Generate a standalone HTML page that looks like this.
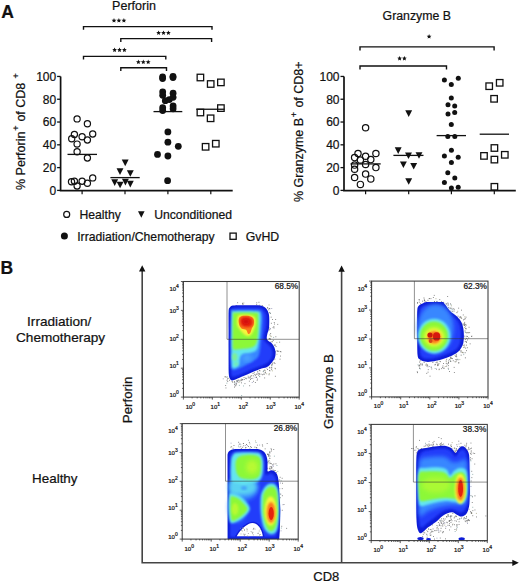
<!DOCTYPE html>
<html><head><meta charset="utf-8"><style>
html,body{margin:0;padding:0;background:#fff;}
svg{display:block;font-family:"Liberation Sans", sans-serif;}
text{fill:#111;stroke:#111;stroke-width:0.22px;}
</style></head><body>
<svg width="520" height="583" viewBox="0 0 520 583">
<defs>
<filter id="b1" x="-20%" y="-20%" width="140%" height="140%"><feGaussianBlur stdDeviation="1.2"/></filter>
<filter id="b2" x="-20%" y="-20%" width="140%" height="140%"><feGaussianBlur stdDeviation="2"/></filter>
<filter id="b0" x="-20%" y="-20%" width="140%" height="140%"><feGaussianBlur stdDeviation="0.5"/></filter>
</defs>
<text x="1.3" y="18" font-size="17.5" font-weight="bold">A</text>
<text x="134" y="10" font-size="12.5" text-anchor="middle">Perforin</text>
<path d="M83.5,29.8 V26.6 H212 V29.8" fill="none" stroke="#111" stroke-width="1.4"/>
<polygon points="114.00,18.10 114.68,19.67 116.38,19.83 115.09,20.96 115.47,22.62 114.00,21.75 112.53,22.62 112.91,20.96 111.62,19.83 113.32,19.67" fill="#111"/>
<polygon points="118.90,18.10 119.58,19.67 121.28,19.83 119.99,20.96 120.37,22.62 118.90,21.75 117.43,22.62 117.81,20.96 116.52,19.83 118.22,19.67" fill="#111"/>
<polygon points="123.90,18.10 124.58,19.67 126.28,19.83 124.99,20.96 125.37,22.62 123.90,21.75 122.43,22.62 122.81,20.96 121.52,19.83 123.22,19.67" fill="#111"/>
<path d="M120.8,42 V38.6 H211.6 V42" fill="none" stroke="#111" stroke-width="1.4"/>
<polygon points="158.60,30.40 159.28,31.97 160.98,32.13 159.69,33.26 160.07,34.92 158.60,34.05 157.13,34.92 157.51,33.26 156.22,32.13 157.92,31.97" fill="#111"/>
<polygon points="163.50,30.40 164.18,31.97 165.88,32.13 164.59,33.26 164.97,34.92 163.50,34.05 162.03,34.92 162.41,33.26 161.12,32.13 162.82,31.97" fill="#111"/>
<polygon points="168.40,30.40 169.08,31.97 170.78,32.13 169.49,33.26 169.87,34.92 168.40,34.05 166.93,34.92 167.31,33.26 166.02,32.13 167.72,31.97" fill="#111"/>
<path d="M83.5,59.5 V56.4 H165.8 V59.5" fill="none" stroke="#111" stroke-width="1.4"/>
<polygon points="114.60,47.50 115.28,49.07 116.98,49.23 115.69,50.36 116.07,52.02 114.60,51.15 113.13,52.02 113.51,50.36 112.22,49.23 113.92,49.07" fill="#111"/>
<polygon points="119.50,47.50 120.18,49.07 121.88,49.23 120.59,50.36 120.97,52.02 119.50,51.15 118.03,52.02 118.41,50.36 117.12,49.23 118.82,49.07" fill="#111"/>
<polygon points="124.40,47.50 125.08,49.07 126.78,49.23 125.49,50.36 125.87,52.02 124.40,51.15 122.93,52.02 123.31,50.36 122.02,49.23 123.72,49.07" fill="#111"/>
<path d="M120.8,71 V67.7 H166.5 V71" fill="none" stroke="#111" stroke-width="1.4"/>
<polygon points="138.40,59.60 139.08,61.17 140.78,61.33 139.49,62.46 139.87,64.12 138.40,63.25 136.93,64.12 137.31,62.46 136.02,61.33 137.72,61.17" fill="#111"/>
<polygon points="143.30,59.60 143.98,61.17 145.68,61.33 144.39,62.46 144.77,64.12 143.30,63.25 141.83,64.12 142.21,62.46 140.92,61.33 142.62,61.17" fill="#111"/>
<polygon points="148.20,59.60 148.88,61.17 150.58,61.33 149.29,62.46 149.67,64.12 148.20,63.25 146.73,64.12 147.11,62.46 145.82,61.33 147.52,61.17" fill="#111"/>
<path d="M60.6,76.45000000000002 V190.6 H232.7" fill="none" stroke="#111" stroke-width="1.7"/>
<path d="M57.1,190.4 H60.6" stroke="#111" stroke-width="1.3"/>
<text x="56.2" y="194.7" font-size="12" text-anchor="end">0</text>
<path d="M57.1,167.61 H60.6" stroke="#111" stroke-width="1.3"/>
<text x="56.2" y="171.9" font-size="12" text-anchor="end">20</text>
<path d="M57.1,144.82 H60.6" stroke="#111" stroke-width="1.3"/>
<text x="56.2" y="149.1" font-size="12" text-anchor="end">40</text>
<path d="M57.1,122.03 H60.6" stroke="#111" stroke-width="1.3"/>
<text x="56.2" y="126.3" font-size="12" text-anchor="end">60</text>
<path d="M57.1,99.24000000000001 H60.6" stroke="#111" stroke-width="1.3"/>
<text x="56.2" y="103.5" font-size="12" text-anchor="end">80</text>
<path d="M57.1,76.45000000000002 H60.6" stroke="#111" stroke-width="1.3"/>
<text x="56.2" y="80.8" font-size="12" text-anchor="end">100</text>
<path d="M82.1,190.4 V194.2" stroke="#111" stroke-width="1.2"/>
<path d="M125,190.4 V194.2" stroke="#111" stroke-width="1.2"/>
<path d="M167.9,190.4 V194.2" stroke="#111" stroke-width="1.2"/>
<path d="M210.8,190.4 V194.2" stroke="#111" stroke-width="1.2"/>
<g transform="rotate(-90)" font-size="12.5"><text x="-190" y="25.2">% Perforin</text><text x="-128.2" y="19.3" font-size="9" text-anchor="middle" stroke="#111" stroke-width="0.35">+</text><text x="-121.6" y="25.2">of CD8</text><text x="-75.8" y="19.3" font-size="9" text-anchor="middle" stroke="#111" stroke-width="0.35">+</text></g>
<circle cx="77.1" cy="118.9" r="3.1" fill="none" stroke="#111" stroke-width="1.2"/>
<circle cx="87.4" cy="123.75" r="3.1" fill="none" stroke="#111" stroke-width="1.2"/>
<circle cx="74.4" cy="134.5" r="3.1" fill="none" stroke="#111" stroke-width="1.2"/>
<circle cx="82.1" cy="136.7" r="3.1" fill="none" stroke="#111" stroke-width="1.2"/>
<circle cx="92.7" cy="134" r="3.1" fill="none" stroke="#111" stroke-width="1.2"/>
<circle cx="71.7" cy="138.8" r="3.1" fill="none" stroke="#111" stroke-width="1.2"/>
<circle cx="87.4" cy="140" r="3.1" fill="none" stroke="#111" stroke-width="1.2"/>
<circle cx="77.1" cy="144.1" r="3.1" fill="none" stroke="#111" stroke-width="1.2"/>
<circle cx="77.1" cy="151.8" r="3.1" fill="none" stroke="#111" stroke-width="1.2"/>
<circle cx="87.4" cy="158" r="3.1" fill="none" stroke="#111" stroke-width="1.2"/>
<circle cx="71.5" cy="181.7" r="3.1" fill="none" stroke="#111" stroke-width="1.2"/>
<circle cx="74.4" cy="181.25" r="3.1" fill="none" stroke="#111" stroke-width="1.2"/>
<circle cx="77.1" cy="186" r="3.1" fill="none" stroke="#111" stroke-width="1.2"/>
<circle cx="82.1" cy="181.25" r="3.1" fill="none" stroke="#111" stroke-width="1.2"/>
<circle cx="87.4" cy="183.2" r="3.1" fill="none" stroke="#111" stroke-width="1.2"/>
<circle cx="92.7" cy="177.9" r="3.1" fill="none" stroke="#111" stroke-width="1.2"/>
<path d="M67.5,154.4 H97" stroke="#111" stroke-width="1.3"/>
<path d="M121.75,159.6 H128.65 L125.2,166.20 Z" fill="#111"/>
<path d="M116.55,168.3 H123.45 L120,174.90 Z" fill="#111"/>
<path d="M126.85,170.2 H133.75 L130.3,176.80 Z" fill="#111"/>
<path d="M111.25,179.3 H118.15 L114.7,185.90 Z" fill="#111"/>
<path d="M116.65,181.7 H123.55 L120.1,188.30 Z" fill="#111"/>
<path d="M121.95,178.8 H128.85 L125.4,185.40 Z" fill="#111"/>
<path d="M126.85,180.8 H133.75 L130.3,187.40 Z" fill="#111"/>
<path d="M110.4,177.6 H139.7" stroke="#111" stroke-width="1.3"/>
<circle cx="162.6" cy="76.8" r="3.4" fill="#111"/>
<circle cx="162.6" cy="78.6" r="3.4" fill="#111"/>
<circle cx="173.0" cy="76.3" r="3.4" fill="#111"/>
<circle cx="173.0" cy="77.6" r="3.4" fill="#111"/>
<circle cx="162.7" cy="91.8" r="3.4" fill="#111"/>
<circle cx="162.7" cy="95.25" r="3.4" fill="#111"/>
<circle cx="173.1" cy="93.2" r="3.4" fill="#111"/>
<circle cx="173.1" cy="97.3" r="3.4" fill="#111"/>
<circle cx="165.3" cy="100.7" r="3.4" fill="#111"/>
<circle cx="169.3" cy="99.6" r="3.4" fill="#111"/>
<circle cx="162.7" cy="107.7" r="3.4" fill="#111"/>
<circle cx="162.7" cy="110.5" r="3.4" fill="#111"/>
<circle cx="173.1" cy="105.9" r="3.4" fill="#111"/>
<circle cx="173.1" cy="108.8" r="3.4" fill="#111"/>
<circle cx="167.9" cy="131.9" r="3.4" fill="#111"/>
<circle cx="167.9" cy="142.2" r="3.4" fill="#111"/>
<circle cx="178.3" cy="146.3" r="3.4" fill="#111"/>
<circle cx="157.5" cy="154.4" r="3.4" fill="#111"/>
<circle cx="167.9" cy="156" r="3.4" fill="#111"/>
<circle cx="167.6" cy="180.7" r="3.4" fill="#111"/>
<path d="M153.5,111.6 H182.3" stroke="#111" stroke-width="1.3"/>
<rect x="197.15" y="74.25" width="6.5" height="6.5" fill="none" stroke="#111" stroke-width="1.3"/>
<rect x="207.45" y="80.75" width="6.5" height="6.5" fill="none" stroke="#111" stroke-width="1.3"/>
<rect x="217.65" y="79.15" width="6.5" height="6.5" fill="none" stroke="#111" stroke-width="1.3"/>
<rect x="217.65" y="104.85" width="6.5" height="6.5" fill="none" stroke="#111" stroke-width="1.3"/>
<rect x="197.15" y="109.25" width="6.5" height="6.5" fill="none" stroke="#111" stroke-width="1.3"/>
<rect x="207.35" y="115.05" width="6.5" height="6.5" fill="none" stroke="#111" stroke-width="1.3"/>
<rect x="212.55" y="140.45" width="6.5" height="6.5" fill="none" stroke="#111" stroke-width="1.3"/>
<rect x="202.35" y="143.55" width="6.5" height="6.5" fill="none" stroke="#111" stroke-width="1.3"/>
<path d="M196.25,109.25 H224.6" stroke="#111" stroke-width="1.3"/>
<circle cx="66.7" cy="214.4" r="3.0" fill="none" stroke="#111" stroke-width="1.2"/>
<text x="79.5" y="218.8" font-size="12.2">Healthy</text>
<path d="M138.00,211.2 H144.60 L141.3,217.70 Z" fill="#111"/>
<text x="154.2" y="218.9" font-size="12.2">Unconditioned</text>
<circle cx="64.4" cy="236" r="3.5" fill="#111"/>
<text x="77.2" y="240.8" font-size="12.2">Irradiation/Chemotherapy</text>
<rect x="230.00" y="233.10" width="6.2" height="6.2" fill="none" stroke="#111" stroke-width="1.3"/>
<text x="245.7" y="240.8" font-size="12.3">GvHD</text>
<text x="382.6" y="20.2" font-size="12.3">Granzyme B</text>
<path d="M360,50.5 V46.9 H494.1 V50.5" fill="none" stroke="#111" stroke-width="1.4"/>
<polygon points="429.10,34.10 429.78,35.67 431.48,35.83 430.19,36.96 430.57,38.62 429.10,37.75 427.63,38.62 428.01,36.96 426.72,35.83 428.42,35.67" fill="#111"/>
<path d="M360,69.5 V66.0 H446.5 V69.5" fill="none" stroke="#111" stroke-width="1.4"/>
<polygon points="399.60,56.00 400.28,57.57 401.98,57.73 400.69,58.86 401.07,60.52 399.60,59.65 398.13,60.52 398.51,58.86 397.22,57.73 398.92,57.57" fill="#111"/>
<polygon points="404.40,56.00 405.08,57.57 406.78,57.73 405.49,58.86 405.87,60.52 404.40,59.65 402.93,60.52 403.31,58.86 402.02,57.73 403.72,57.57" fill="#111"/>
<path d="M344,76.45000000000002 V190.6 H515.8" fill="none" stroke="#111" stroke-width="1.7"/>
<path d="M340.5,190.4 H344" stroke="#111" stroke-width="1.3"/>
<text x="339.5" y="194.7" font-size="12" text-anchor="end">0</text>
<path d="M340.5,167.61 H344" stroke="#111" stroke-width="1.3"/>
<text x="339.5" y="171.9" font-size="12" text-anchor="end">20</text>
<path d="M340.5,144.82 H344" stroke="#111" stroke-width="1.3"/>
<text x="339.5" y="149.1" font-size="12" text-anchor="end">40</text>
<path d="M340.5,122.03 H344" stroke="#111" stroke-width="1.3"/>
<text x="339.5" y="126.3" font-size="12" text-anchor="end">60</text>
<path d="M340.5,99.24000000000001 H344" stroke="#111" stroke-width="1.3"/>
<text x="339.5" y="103.5" font-size="12" text-anchor="end">80</text>
<path d="M340.5,76.45000000000002 H344" stroke="#111" stroke-width="1.3"/>
<text x="339.5" y="80.8" font-size="12" text-anchor="end">100</text>
<path d="M365.6,190.4 V194.2" stroke="#111" stroke-width="1.2"/>
<path d="M408.7,190.4 V194.2" stroke="#111" stroke-width="1.2"/>
<path d="M451.4,190.4 V194.2" stroke="#111" stroke-width="1.2"/>
<path d="M494.3,190.4 V194.2" stroke="#111" stroke-width="1.2"/>
<g transform="rotate(-90)" font-size="12.5"><text x="-202" y="303.2">% Granzyme B</text><text x="-114.7" y="297.3" font-size="9" text-anchor="middle" stroke="#111" stroke-width="0.35">+</text><text x="-107.6" y="303.2">of CD8+</text></g>
<circle cx="365.6" cy="127.8" r="3.15" fill="none" stroke="#111" stroke-width="1.2"/>
<circle cx="358" cy="153.5" r="3.15" fill="none" stroke="#111" stroke-width="1.2"/>
<circle cx="375.9" cy="153.5" r="3.15" fill="none" stroke="#111" stroke-width="1.2"/>
<circle cx="354.6" cy="157.6" r="3.15" fill="none" stroke="#111" stroke-width="1.2"/>
<circle cx="365.6" cy="156.2" r="3.15" fill="none" stroke="#111" stroke-width="1.2"/>
<circle cx="360.4" cy="160" r="3.15" fill="none" stroke="#111" stroke-width="1.2"/>
<circle cx="370.8" cy="159.6" r="3.15" fill="none" stroke="#111" stroke-width="1.2"/>
<circle cx="354.6" cy="165.1" r="3.15" fill="none" stroke="#111" stroke-width="1.2"/>
<circle cx="365.6" cy="164.5" r="3.15" fill="none" stroke="#111" stroke-width="1.2"/>
<circle cx="354.6" cy="169.3" r="3.15" fill="none" stroke="#111" stroke-width="1.2"/>
<circle cx="375.9" cy="167.6" r="3.15" fill="none" stroke="#111" stroke-width="1.2"/>
<circle cx="365.6" cy="174.1" r="3.15" fill="none" stroke="#111" stroke-width="1.2"/>
<circle cx="354.6" cy="177.5" r="3.15" fill="none" stroke="#111" stroke-width="1.2"/>
<circle cx="370.8" cy="178.9" r="3.15" fill="none" stroke="#111" stroke-width="1.2"/>
<circle cx="360.4" cy="184.4" r="3.15" fill="none" stroke="#111" stroke-width="1.2"/>
<path d="M350.5,163.9 H380.7" stroke="#111" stroke-width="1.3"/>
<path d="M405.25,110.3 H412.15 L408.7,116.90 Z" fill="#111"/>
<path d="M394.75,147.3 H401.65 L398.2,153.90 Z" fill="#111"/>
<path d="M405.05,152.4 H411.95 L408.5,159.00 Z" fill="#111"/>
<path d="M415.55,152.2 H422.45 L419,158.80 Z" fill="#111"/>
<path d="M399.95,161.5 H406.85 L403.4,168.10 Z" fill="#111"/>
<path d="M410.25,163 H417.15 L413.7,169.60 Z" fill="#111"/>
<path d="M405.25,178.2 H412.15 L408.7,184.80 Z" fill="#111"/>
<path d="M393.4,155.4 H423.5" stroke="#111" stroke-width="1.3"/>
<circle cx="444.4" cy="80" r="2.5" fill="#111"/>
<circle cx="458.3" cy="78.2" r="2.5" fill="#111"/>
<circle cx="451.3" cy="84.4" r="2.5" fill="#111"/>
<circle cx="451.3" cy="98" r="2.5" fill="#111"/>
<circle cx="448" cy="104.8" r="2.5" fill="#111"/>
<circle cx="454.7" cy="106" r="2.5" fill="#111"/>
<circle cx="448" cy="113.9" r="2.5" fill="#111"/>
<circle cx="454.7" cy="112.4" r="2.5" fill="#111"/>
<circle cx="451.3" cy="124.5" r="2.5" fill="#111"/>
<circle cx="447.8" cy="136.6" r="2.5" fill="#111"/>
<circle cx="454.8" cy="136.4" r="2.5" fill="#111"/>
<circle cx="451.4" cy="150.2" r="2.5" fill="#111"/>
<circle cx="444.4" cy="156" r="2.5" fill="#111"/>
<circle cx="458.2" cy="157.2" r="2.5" fill="#111"/>
<circle cx="451.4" cy="162.6" r="2.5" fill="#111"/>
<circle cx="447.8" cy="172.8" r="2.5" fill="#111"/>
<circle cx="454.8" cy="178" r="2.5" fill="#111"/>
<circle cx="444.4" cy="182.6" r="2.5" fill="#111"/>
<circle cx="451.4" cy="188" r="2.5" fill="#111"/>
<circle cx="458.2" cy="187.2" r="2.5" fill="#111"/>
<path d="M436.6,135.6 H466" stroke="#111" stroke-width="1.3"/>
<rect x="485.95" y="82.95" width="6.5" height="6.5" fill="none" stroke="#111" stroke-width="1.3"/>
<rect x="496.45" y="79.55" width="6.5" height="6.5" fill="none" stroke="#111" stroke-width="1.3"/>
<rect x="490.85" y="95.55" width="6.5" height="6.5" fill="none" stroke="#111" stroke-width="1.3"/>
<rect x="491.15" y="144.75" width="6.5" height="6.5" fill="none" stroke="#111" stroke-width="1.3"/>
<rect x="480.75" y="152.65" width="6.5" height="6.5" fill="none" stroke="#111" stroke-width="1.3"/>
<rect x="501.55" y="151.55" width="6.5" height="6.5" fill="none" stroke="#111" stroke-width="1.3"/>
<rect x="491.15" y="156.35" width="6.5" height="6.5" fill="none" stroke="#111" stroke-width="1.3"/>
<rect x="491.15" y="183.55" width="6.5" height="6.5" fill="none" stroke="#111" stroke-width="1.3"/>
<path d="M479.7,134.2 H509" stroke="#111" stroke-width="1.3"/>
<text x="0.5" y="273.6" font-size="17.5" font-weight="bold">B</text>
<text x="59.2" y="325.5" font-size="13.6" text-anchor="middle">Irradiation/</text>
<text x="60.6" y="341.7" font-size="13.6" text-anchor="middle">Chemotherapy</text>
<text x="54.8" y="483.1" font-size="13.4" text-anchor="middle">Healthy</text>
<path d="M142.2,270 V562.7 H513" fill="none" stroke="#444" stroke-width="1.6"/>
<path d="M341.6,270 V562.7" fill="none" stroke="#444" stroke-width="1.6"/>
<path d="M142.2,265.2 L145.4,271.5 L139,271.5 Z" fill="#111"/>
<path d="M341.6,265.4 L344.8,271.7 L338.4,271.7 Z" fill="#111"/>
<path d="M518.8,562.8 L512.3,559.7 L512.3,566 Z" fill="#111"/>
<text transform="translate(132.3,399.9) rotate(-90)" font-size="13.3" text-anchor="middle">Perforin</text>
<text transform="translate(333.1,391.5) rotate(-90)" font-size="13.5" text-anchor="middle">Granzyme B</text>
<text x="313.3" y="580.8" font-size="13">CD8</text>
<rect x="254.9" y="382.1" width="0.9" height="0.9" fill="#777"/>
<rect x="265.0" y="372.4" width="0.9" height="0.9" fill="#777"/>
<rect x="269.4" y="367.5" width="0.9" height="0.9" fill="#666"/>
<rect x="227.1" y="376.5" width="0.9" height="0.9" fill="#8aa"/>
<rect x="234.3" y="381.9" width="0.9" height="0.9" fill="#777"/>
<rect x="257.5" y="370.7" width="0.9" height="0.9" fill="#99b"/>
<rect x="249.6" y="377.7" width="0.9" height="0.9" fill="#777"/>
<rect x="234.4" y="384.5" width="0.9" height="0.9" fill="#99b"/>
<rect x="271.3" y="365.5" width="0.9" height="0.9" fill="#8aa"/>
<rect x="231.7" y="381.1" width="0.9" height="0.9" fill="#777"/>
<rect x="251.3" y="378.1" width="0.9" height="0.9" fill="#777"/>
<rect x="259.1" y="370.0" width="0.9" height="0.9" fill="#777"/>
<rect x="237.0" y="380.9" width="0.9" height="0.9" fill="#777"/>
<rect x="265.0" y="370.5" width="0.9" height="0.9" fill="#aa8"/>
<rect x="255.1" y="374.8" width="0.9" height="0.9" fill="#777"/>
<rect x="225.7" y="377.0" width="0.9" height="0.9" fill="#aa8"/>
<rect x="254.7" y="376.8" width="0.9" height="0.9" fill="#99b"/>
<rect x="275.1" y="368.3" width="0.9" height="0.9" fill="#777"/>
<rect x="269.2" y="366.9" width="0.9" height="0.9" fill="#777"/>
<rect x="268.6" y="374.3" width="0.9" height="0.9" fill="#666"/>
<rect x="266.2" y="373.4" width="0.9" height="0.9" fill="#aa8"/>
<rect x="243.1" y="385.5" width="0.9" height="0.9" fill="#8aa"/>
<rect x="274.9" y="375.8" width="0.9" height="0.9" fill="#777"/>
<rect x="234.6" y="382.8" width="0.9" height="0.9" fill="#8aa"/>
<rect x="268.8" y="373.1" width="0.9" height="0.9" fill="#aa8"/>
<rect x="236.7" y="379.9" width="0.9" height="0.9" fill="#8aa"/>
<rect x="264.7" y="372.0" width="0.9" height="0.9" fill="#777"/>
<rect x="224.5" y="376.4" width="0.9" height="0.9" fill="#777"/>
<rect x="267.1" y="369.1" width="0.9" height="0.9" fill="#777"/>
<rect x="271.5" y="364.3" width="0.9" height="0.9" fill="#777"/>
<rect x="258.3" y="372.8" width="0.9" height="0.9" fill="#777"/>
<rect x="238.2" y="379.7" width="0.9" height="0.9" fill="#777"/>
<rect x="258.2" y="374.7" width="0.9" height="0.9" fill="#777"/>
<rect x="225.5" y="387.5" width="0.9" height="0.9" fill="#777"/>
<rect x="245.9" y="378.3" width="0.9" height="0.9" fill="#777"/>
<rect x="238.5" y="380.4" width="0.9" height="0.9" fill="#777"/>
<rect x="252.6" y="373.1" width="0.9" height="0.9" fill="#777"/>
<rect x="249.9" y="375.8" width="0.9" height="0.9" fill="#777"/>
<rect x="243.8" y="379.0" width="0.9" height="0.9" fill="#777"/>
<rect x="262.8" y="371.2" width="0.9" height="0.9" fill="#777"/>
<rect x="253.2" y="375.4" width="0.9" height="0.9" fill="#777"/>
<rect x="236.0" y="383.5" width="0.9" height="0.9" fill="#777"/>
<rect x="245.4" y="377.6" width="0.9" height="0.9" fill="#777"/>
<rect x="240.8" y="380.2" width="0.9" height="0.9" fill="#666"/>
<rect x="253.1" y="380.8" width="0.9" height="0.9" fill="#777"/>
<rect x="241.0" y="382.4" width="0.9" height="0.9" fill="#777"/>
<rect x="234.0" y="381.2" width="0.9" height="0.9" fill="#777"/>
<rect x="244.5" y="383.2" width="0.9" height="0.9" fill="#777"/>
<rect x="264.3" y="369.6" width="0.9" height="0.9" fill="#777"/>
<rect x="269.1" y="370.1" width="0.9" height="0.9" fill="#777"/>
<rect x="256.8" y="373.6" width="0.9" height="0.9" fill="#777"/>
<rect x="237.6" y="379.8" width="0.9" height="0.9" fill="#99b"/>
<rect x="250.1" y="379.0" width="0.9" height="0.9" fill="#777"/>
<rect x="239.7" y="379.7" width="0.9" height="0.9" fill="#777"/>
<rect x="256.1" y="373.7" width="0.9" height="0.9" fill="#777"/>
<rect x="242.2" y="378.9" width="0.9" height="0.9" fill="#777"/>
<rect x="258.7" y="373.3" width="0.9" height="0.9" fill="#777"/>
<rect x="266.4" y="367.7" width="0.9" height="0.9" fill="#99b"/>
<rect x="248.4" y="376.7" width="0.9" height="0.9" fill="#777"/>
<rect x="271.2" y="369.2" width="0.9" height="0.9" fill="#777"/>
<rect x="251.8" y="382.1" width="0.9" height="0.9" fill="#99b"/>
<rect x="241.6" y="379.3" width="0.9" height="0.9" fill="#777"/>
<rect x="225.2" y="385.1" width="0.9" height="0.9" fill="#777"/>
<rect x="240.9" y="378.7" width="0.9" height="0.9" fill="#777"/>
<rect x="234.0" y="383.9" width="0.9" height="0.9" fill="#777"/>
<rect x="242.2" y="379.4" width="0.9" height="0.9" fill="#777"/>
<rect x="259.1" y="373.7" width="0.9" height="0.9" fill="#777"/>
<rect x="269.5" y="370.4" width="0.9" height="0.9" fill="#777"/>
<rect x="274.5" y="367.8" width="0.9" height="0.9" fill="#aa8"/>
<rect x="271.3" y="367.6" width="0.9" height="0.9" fill="#777"/>
<rect x="227.7" y="377.9" width="0.9" height="0.9" fill="#777"/>
<rect x="226.4" y="382.7" width="0.9" height="0.9" fill="#8aa"/>
<rect x="222.8" y="378.4" width="0.9" height="0.9" fill="#99b"/>
<rect x="259.3" y="376.2" width="0.9" height="0.9" fill="#8aa"/>
<rect x="234.1" y="386.6" width="0.9" height="0.9" fill="#666"/>
<rect x="235.2" y="385.4" width="0.9" height="0.9" fill="#777"/>
<rect x="247.7" y="375.7" width="0.9" height="0.9" fill="#99b"/>
<rect x="227.3" y="381.1" width="0.9" height="0.9" fill="#777"/>
<rect x="264.2" y="377.5" width="0.9" height="0.9" fill="#777"/>
<rect x="259.5" y="370.4" width="0.9" height="0.9" fill="#777"/>
<rect x="236.5" y="382.2" width="0.9" height="0.9" fill="#99b"/>
<rect x="227.0" y="378.5" width="0.9" height="0.9" fill="#777"/>
<rect x="238.9" y="384.9" width="0.9" height="0.9" fill="#8aa"/>
<rect x="236.9" y="380.5" width="0.9" height="0.9" fill="#777"/>
<rect x="263.6" y="370.2" width="0.9" height="0.9" fill="#777"/>
<rect x="245.2" y="378.0" width="0.9" height="0.9" fill="#8aa"/>
<rect x="259.0" y="375.9" width="0.9" height="0.9" fill="#8aa"/>
<rect x="232.3" y="381.8" width="0.9" height="0.9" fill="#777"/>
<rect x="253.8" y="372.3" width="0.9" height="0.9" fill="#777"/>
<rect x="235.8" y="383.4" width="0.9" height="0.9" fill="#777"/>
<rect x="256.1" y="377.0" width="0.9" height="0.9" fill="#777"/>
<rect x="226.6" y="379.8" width="0.9" height="0.9" fill="#777"/>
<rect x="256.7" y="379.8" width="0.9" height="0.9" fill="#777"/>
<rect x="256.0" y="376.7" width="0.9" height="0.9" fill="#777"/>
<rect x="252.4" y="377.8" width="0.9" height="0.9" fill="#99b"/>
<rect x="257.0" y="371.5" width="0.9" height="0.9" fill="#777"/>
<rect x="257.1" y="378.6" width="0.9" height="0.9" fill="#777"/>
<rect x="271.3" y="364.7" width="0.9" height="0.9" fill="#777"/>
<rect x="254.4" y="374.1" width="0.9" height="0.9" fill="#777"/>
<rect x="229.1" y="379.8" width="0.9" height="0.9" fill="#777"/>
<rect x="248.9" y="380.7" width="0.9" height="0.9" fill="#777"/>
<rect x="236.0" y="380.6" width="0.9" height="0.9" fill="#666"/>
<rect x="225.4" y="376.2" width="0.9" height="0.9" fill="#777"/>
<rect x="260.6" y="373.7" width="0.9" height="0.9" fill="#777"/>
<rect x="250.6" y="375.7" width="0.9" height="0.9" fill="#aa8"/>
<rect x="249.2" y="385.3" width="0.9" height="0.9" fill="#777"/>
<rect x="271.2" y="367.0" width="0.9" height="0.9" fill="#777"/>
<rect x="235.5" y="384.6" width="0.9" height="0.9" fill="#777"/>
<rect x="238.4" y="382.1" width="0.9" height="0.9" fill="#aa8"/>
<rect x="243.6" y="377.2" width="0.9" height="0.9" fill="#777"/>
<rect x="263.7" y="373.7" width="0.9" height="0.9" fill="#777"/>
<rect x="251.3" y="375.2" width="0.9" height="0.9" fill="#777"/>
<rect x="241.2" y="395.1" width="0.9" height="0.9" fill="#8aa"/>
<rect x="249.6" y="377.2" width="0.9" height="0.9" fill="#777"/>
<rect x="262.1" y="374.3" width="0.9" height="0.9" fill="#777"/>
<rect x="263.4" y="373.7" width="0.9" height="0.9" fill="#777"/>
<rect x="263.1" y="370.7" width="0.9" height="0.9" fill="#8aa"/>
<rect x="271.9" y="370.4" width="0.9" height="0.9" fill="#aa8"/>
<rect x="247.7" y="377.5" width="0.9" height="0.9" fill="#777"/>
<rect x="239.4" y="381.3" width="0.9" height="0.9" fill="#aa8"/>
<rect x="269.5" y="334.5" width="0.9" height="0.9" fill="#777"/>
<rect x="274.0" y="323.6" width="0.9" height="0.9" fill="#777"/>
<rect x="268.9" y="338.4" width="0.9" height="0.9" fill="#777"/>
<rect x="269.4" y="308.3" width="0.9" height="0.9" fill="#777"/>
<rect x="273.4" y="326.2" width="0.9" height="0.9" fill="#777"/>
<rect x="270.0" y="338.6" width="0.9" height="0.9" fill="#777"/>
<rect x="270.0" y="313.1" width="0.9" height="0.9" fill="#8aa"/>
<rect x="268.8" y="338.2" width="0.9" height="0.9" fill="#777"/>
<rect x="276.4" y="342.2" width="0.9" height="0.9" fill="#aa8"/>
<rect x="273.8" y="362.3" width="0.9" height="0.9" fill="#777"/>
<rect x="273.8" y="344.6" width="0.9" height="0.9" fill="#777"/>
<rect x="277.4" y="351.0" width="0.9" height="0.9" fill="#777"/>
<rect x="270.2" y="333.0" width="0.9" height="0.9" fill="#777"/>
<rect x="269.2" y="311.9" width="0.9" height="0.9" fill="#777"/>
<rect x="267.5" y="307.8" width="0.9" height="0.9" fill="#777"/>
<rect x="272.0" y="319.1" width="0.9" height="0.9" fill="#777"/>
<rect x="270.3" y="335.5" width="0.9" height="0.9" fill="#aa8"/>
<rect x="274.4" y="358.7" width="0.9" height="0.9" fill="#777"/>
<rect x="268.7" y="327.5" width="0.9" height="0.9" fill="#777"/>
<rect x="272.4" y="362.5" width="0.9" height="0.9" fill="#777"/>
<rect x="277.3" y="350.5" width="0.9" height="0.9" fill="#777"/>
<rect x="272.8" y="339.9" width="0.9" height="0.9" fill="#777"/>
<rect x="270.7" y="316.7" width="0.9" height="0.9" fill="#777"/>
<rect x="279.2" y="341.7" width="0.9" height="0.9" fill="#777"/>
<rect x="270.9" y="322.8" width="0.9" height="0.9" fill="#777"/>
<rect x="273.8" y="322.1" width="0.9" height="0.9" fill="#777"/>
<rect x="275.4" y="336.3" width="0.9" height="0.9" fill="#777"/>
<rect x="279.6" y="358.7" width="0.9" height="0.9" fill="#777"/>
<rect x="268.7" y="329.5" width="0.9" height="0.9" fill="#777"/>
<rect x="280.5" y="351.4" width="0.9" height="0.9" fill="#777"/>
<rect x="276.5" y="350.4" width="0.9" height="0.9" fill="#777"/>
<rect x="274.6" y="344.9" width="0.9" height="0.9" fill="#666"/>
<rect x="269.4" y="338.1" width="0.9" height="0.9" fill="#777"/>
<rect x="275.6" y="346.1" width="0.9" height="0.9" fill="#777"/>
<rect x="272.1" y="341.3" width="0.9" height="0.9" fill="#777"/>
<rect x="268.3" y="309.4" width="0.9" height="0.9" fill="#777"/>
<rect x="269.7" y="312.7" width="0.9" height="0.9" fill="#777"/>
<rect x="277.3" y="323.9" width="0.9" height="0.9" fill="#777"/>
<rect x="272.6" y="327.2" width="0.9" height="0.9" fill="#777"/>
<rect x="274.9" y="351.4" width="0.9" height="0.9" fill="#777"/>
<rect x="274.7" y="344.3" width="0.9" height="0.9" fill="#99b"/>
<rect x="273.6" y="327.5" width="0.9" height="0.9" fill="#777"/>
<rect x="269.5" y="328.8" width="0.9" height="0.9" fill="#777"/>
<rect x="269.0" y="308.0" width="0.9" height="0.9" fill="#777"/>
<rect x="273.2" y="336.9" width="0.9" height="0.9" fill="#8aa"/>
<rect x="280.0" y="355.6" width="0.9" height="0.9" fill="#777"/>
<rect x="270.7" y="341.3" width="0.9" height="0.9" fill="#777"/>
<rect x="278.4" y="350.8" width="0.9" height="0.9" fill="#777"/>
<rect x="274.5" y="363.1" width="0.9" height="0.9" fill="#777"/>
<rect x="270.1" y="328.1" width="0.9" height="0.9" fill="#99b"/>
<rect x="276.5" y="353.8" width="0.9" height="0.9" fill="#aa8"/>
<rect x="275.2" y="319.0" width="0.9" height="0.9" fill="#777"/>
<rect x="272.1" y="363.5" width="0.9" height="0.9" fill="#777"/>
<rect x="270.7" y="336.2" width="0.9" height="0.9" fill="#aa8"/>
<rect x="280.1" y="351.0" width="0.9" height="0.9" fill="#777"/>
<rect x="243.4" y="302.5" width="0.9" height="0.9" fill="#aa8"/>
<rect x="268.6" y="304.5" width="0.9" height="0.9" fill="#aa8"/>
<rect x="261.8" y="305.1" width="0.9" height="0.9" fill="#777"/>
<rect x="263.4" y="306.9" width="0.9" height="0.9" fill="#777"/>
<rect x="242.1" y="302.8" width="0.9" height="0.9" fill="#777"/>
<rect x="242.5" y="303.9" width="0.9" height="0.9" fill="#777"/>
<rect x="258.5" y="301.8" width="0.9" height="0.9" fill="#777"/>
<rect x="256.3" y="302.4" width="0.9" height="0.9" fill="#777"/>
<rect x="271.3" y="308.1" width="0.9" height="0.9" fill="#99b"/>
<rect x="242.4" y="303.3" width="0.9" height="0.9" fill="#777"/>
<rect x="237.2" y="302.3" width="0.9" height="0.9" fill="#777"/>
<rect x="236.0" y="305.6" width="0.9" height="0.9" fill="#777"/>
<rect x="259.2" y="304.8" width="0.9" height="0.9" fill="#777"/>
<rect x="256.2" y="304.3" width="0.9" height="0.9" fill="#777"/>
<rect x="267.1" y="307.2" width="0.9" height="0.9" fill="#777"/>
<path d="M228.60,312.00 C228.77,308.30 228.87,308.87 229.60,307.80 C230.33,306.73 231.27,306.03 233.00,305.60 C234.73,305.17 236.83,305.27 240.00,305.20 C243.17,305.13 248.67,305.15 252.00,305.20 C255.33,305.25 257.83,305.12 260.00,305.50 C262.17,305.88 263.67,306.50 265.00,307.50 C266.33,308.50 267.30,309.92 268.00,311.50 C268.70,313.08 269.03,314.25 269.20,317.00 C269.37,319.75 269.32,325.17 269.00,328.00 C268.68,330.83 267.67,332.25 267.30,334.00 C266.93,335.75 266.60,337.33 266.80,338.50 C267.00,339.67 267.72,340.25 268.50,341.00 C269.28,341.75 270.55,342.00 271.50,343.00 C272.45,344.00 273.52,345.42 274.20,347.00 C274.88,348.58 275.50,350.67 275.60,352.50 C275.70,354.33 275.48,356.25 274.80,358.00 C274.12,359.75 272.80,361.50 271.50,363.00 C270.20,364.50 269.00,365.97 267.00,367.00 C265.00,368.03 262.17,368.23 259.50,369.20 C256.83,370.17 253.67,371.67 251.00,372.80 C248.33,373.93 246.00,374.93 243.50,376.00 C241.00,377.07 237.92,378.47 236.00,379.20 C234.08,379.93 233.03,380.52 232.00,380.40 C230.97,380.28 230.33,379.57 229.80,378.50 C229.27,377.43 229.00,377.08 228.80,374.00 C228.60,370.92 228.63,367.33 228.60,360.00 C228.57,352.67 228.60,338.00 228.60,330.00 C228.60,322.00 228.43,315.70 228.60,312.00Z" fill="rgb(15,28,215)" filter="url(#b0)"/>
<path d="M231.00,313.00 C231.20,306.17 231.17,309.87 232.00,309.00 C232.83,308.13 231.67,308.00 236.00,307.80 C240.33,307.60 253.50,307.52 258.00,307.80 C262.50,308.08 261.75,308.63 263.00,309.50 C264.25,310.37 264.92,311.58 265.50,313.00 C266.08,314.42 266.42,315.50 266.50,318.00 C266.58,320.50 266.33,325.33 266.00,328.00 C265.67,330.67 264.83,332.17 264.50,334.00 C264.17,335.83 263.75,337.58 264.00,339.00 C264.25,340.42 265.00,341.33 266.00,342.50 C267.00,343.67 268.92,344.42 270.00,346.00 C271.08,347.58 272.25,350.00 272.50,352.00 C272.75,354.00 272.25,356.25 271.50,358.00 C270.75,359.75 269.58,361.25 268.00,362.50 C266.42,363.75 264.33,364.50 262.00,365.50 C259.67,366.50 256.67,367.42 254.00,368.50 C251.33,369.58 248.67,370.83 246.00,372.00 C243.33,373.17 240.25,374.75 238.00,375.50 C235.75,376.25 233.67,377.08 232.50,376.50 C231.33,375.92 231.28,376.42 231.00,372.00 C230.72,367.58 230.80,359.83 230.80,350.00 C230.80,340.17 230.80,319.83 231.00,313.00Z" fill="rgb(35,60,250)" filter="url(#b1)"/>
<path d="M231.50,313.00 C231.80,309.70 228.58,310.67 233.00,310.20 C237.42,309.73 253.25,309.82 258.00,310.20 C262.75,310.58 260.75,311.20 261.50,312.50 C262.25,313.80 262.42,315.08 262.50,318.00 C262.58,320.92 262.25,326.33 262.00,330.00 C261.75,333.67 261.33,336.67 261.00,340.00 C260.67,343.33 260.50,347.17 260.00,350.00 C259.50,352.83 259.33,355.00 258.00,357.00 C256.67,359.00 254.33,360.50 252.00,362.00 C249.67,363.50 246.50,364.83 244.00,366.00 C241.50,367.17 238.92,368.42 237.00,369.00 C235.08,369.58 233.47,370.67 232.50,369.50 C231.53,368.33 231.42,368.58 231.20,362.00 C230.98,355.42 231.15,338.17 231.20,330.00 C231.25,321.83 231.20,316.30 231.50,313.00Z" fill="rgb(55,135,255)" filter="url(#b1)"/>
<path d="M232.00,314.00 C232.28,305.58 229.33,311.92 233.50,311.50 C237.67,311.08 252.58,311.17 257.00,311.50 C261.42,311.83 259.42,312.08 260.00,313.50 C260.58,314.92 260.58,316.92 260.50,320.00 C260.42,323.08 259.83,328.33 259.50,332.00 C259.17,335.67 259.00,339.00 258.50,342.00 C258.00,345.00 257.92,348.17 256.50,350.00 C255.08,351.83 252.25,352.33 250.00,353.00 C247.75,353.67 244.67,353.17 243.00,354.00 C241.33,354.83 240.67,356.17 240.00,358.00 C239.33,359.83 240.00,363.33 239.00,365.00 C238.00,366.67 235.20,368.50 234.00,368.00 C232.80,367.50 232.13,371.00 231.80,362.00 C231.47,353.00 231.72,322.42 232.00,314.00Z" fill="rgb(100,230,240)" filter="url(#b1)"/>
<path d="M233.00,315.00 C233.32,310.47 230.67,313.17 234.50,312.80 C238.33,312.43 252.05,312.27 256.00,312.80 C259.95,313.33 257.82,313.47 258.20,316.00 C258.58,318.53 258.42,324.33 258.30,328.00 C258.18,331.67 257.97,335.17 257.50,338.00 C257.03,340.83 256.75,343.33 255.50,345.00 C254.25,346.67 252.08,347.37 250.00,348.00 C247.92,348.63 245.17,348.55 243.00,348.80 C240.83,349.05 238.62,349.47 237.00,349.50 C235.38,349.53 234.03,350.58 233.30,349.00 C232.57,347.42 232.65,345.67 232.60,340.00 C232.55,334.33 232.68,319.53 233.00,315.00Z" fill="rgb(140,248,55)" filter="url(#b1)"/>
<ellipse cx="234.8" cy="357" rx="2.6" ry="4" fill="rgb(130,240,140)" filter="url(#b1)" opacity="0.9"/>
<ellipse cx="236" cy="364" rx="2.5" ry="2.2" fill="rgb(120,235,170)" filter="url(#b1)" opacity="0.8"/>
<ellipse cx="247" cy="358" rx="5" ry="3.5" fill="rgb(80,170,255)" filter="url(#b2)" opacity="0.8"/>
<path d="M237.50,317.50 C237.95,315.83 237.92,315.42 240.00,315.00 C242.08,314.58 247.50,314.53 250.00,315.00 C252.50,315.47 254.07,316.30 255.00,317.80 C255.93,319.30 255.88,321.80 255.60,324.00 C255.32,326.20 254.23,329.08 253.30,331.00 C252.37,332.92 251.22,334.75 250.00,335.50 C248.78,336.25 247.50,336.25 246.00,335.50 C244.50,334.75 242.45,332.75 241.00,331.00 C239.55,329.25 237.88,327.25 237.30,325.00 C236.72,322.75 237.05,319.17 237.50,317.50Z" fill="rgb(248,245,60)" filter="url(#b1)"/>
<path d="M239.00,318.50 C239.50,317.17 240.33,316.42 242.00,316.00 C243.67,315.58 247.08,315.53 249.00,316.00 C250.92,316.47 252.70,317.38 253.50,318.80 C254.30,320.22 254.08,322.88 253.80,324.50 C253.52,326.12 252.40,327.08 251.80,328.50 C251.20,329.92 250.83,332.12 250.20,333.00 C249.57,333.88 248.67,334.30 248.00,333.80 C247.33,333.30 247.28,330.88 246.20,330.00 C245.12,329.12 242.70,329.50 241.50,328.50 C240.30,327.50 239.42,325.67 239.00,324.00 C238.58,322.33 238.50,319.83 239.00,318.50Z" fill="rgb(250,120,30)" filter="url(#b0)"/>
<path d="M240.50,319.00 C240.95,317.83 242.08,317.28 243.50,317.00 C244.92,316.72 247.50,316.80 249.00,317.30 C250.50,317.80 251.95,318.75 252.50,320.00 C253.05,321.25 252.80,323.67 252.30,324.80 C251.80,325.93 250.88,326.47 249.50,326.80 C248.12,327.13 245.45,327.27 244.00,326.80 C242.55,326.33 241.38,325.30 240.80,324.00 C240.22,322.70 240.05,320.17 240.50,319.00Z" fill="rgb(228,32,14)" filter="url(#b1)"/>
<ellipse cx="246" cy="321.5" rx="3.2" ry="2.6" fill="rgb(212,16,10)" filter="url(#b1)"/>
<path d="M227.0,281.5 V339.3 H299.2" fill="none" stroke="#333" stroke-width="0.9" opacity="0.6"/>
<rect x="183.4" y="281.5" width="115.8" height="115.6" fill="none" stroke="#3a3a3a" stroke-width="1.05"/>
<path d="M183.40,397.1 v2.5" stroke="#333" stroke-width="0.8"/>
<path d="M183.4,397.10 h-2.5" stroke="#333" stroke-width="0.8"/>
<path d="M192.11,397.1 v1.3" stroke="#333" stroke-width="0.8"/>
<path d="M183.4,388.40 h-1.3" stroke="#333" stroke-width="0.8"/>
<path d="M197.21,397.1 v1.3" stroke="#333" stroke-width="0.8"/>
<path d="M183.4,383.31 h-1.3" stroke="#333" stroke-width="0.8"/>
<path d="M200.83,397.1 v1.3" stroke="#333" stroke-width="0.8"/>
<path d="M183.4,379.70 h-1.3" stroke="#333" stroke-width="0.8"/>
<path d="M203.64,397.1 v1.3" stroke="#333" stroke-width="0.8"/>
<path d="M183.4,376.90 h-1.3" stroke="#333" stroke-width="0.8"/>
<path d="M205.93,397.1 v1.3" stroke="#333" stroke-width="0.8"/>
<path d="M183.4,374.61 h-1.3" stroke="#333" stroke-width="0.8"/>
<path d="M207.87,397.1 v1.3" stroke="#333" stroke-width="0.8"/>
<path d="M183.4,372.68 h-1.3" stroke="#333" stroke-width="0.8"/>
<path d="M209.54,397.1 v1.3" stroke="#333" stroke-width="0.8"/>
<path d="M183.4,371.00 h-1.3" stroke="#333" stroke-width="0.8"/>
<path d="M211.03,397.1 v1.3" stroke="#333" stroke-width="0.8"/>
<path d="M183.4,369.52 h-1.3" stroke="#333" stroke-width="0.8"/>
<path d="M212.35,397.1 v2.5" stroke="#333" stroke-width="0.8"/>
<path d="M183.4,368.20 h-2.5" stroke="#333" stroke-width="0.8"/>
<path d="M221.06,397.1 v1.3" stroke="#333" stroke-width="0.8"/>
<path d="M183.4,359.50 h-1.3" stroke="#333" stroke-width="0.8"/>
<path d="M226.16,397.1 v1.3" stroke="#333" stroke-width="0.8"/>
<path d="M183.4,354.41 h-1.3" stroke="#333" stroke-width="0.8"/>
<path d="M229.78,397.1 v1.3" stroke="#333" stroke-width="0.8"/>
<path d="M183.4,350.80 h-1.3" stroke="#333" stroke-width="0.8"/>
<path d="M232.59,397.1 v1.3" stroke="#333" stroke-width="0.8"/>
<path d="M183.4,348.00 h-1.3" stroke="#333" stroke-width="0.8"/>
<path d="M234.88,397.1 v1.3" stroke="#333" stroke-width="0.8"/>
<path d="M183.4,345.71 h-1.3" stroke="#333" stroke-width="0.8"/>
<path d="M236.82,397.1 v1.3" stroke="#333" stroke-width="0.8"/>
<path d="M183.4,343.78 h-1.3" stroke="#333" stroke-width="0.8"/>
<path d="M238.49,397.1 v1.3" stroke="#333" stroke-width="0.8"/>
<path d="M183.4,342.10 h-1.3" stroke="#333" stroke-width="0.8"/>
<path d="M239.98,397.1 v1.3" stroke="#333" stroke-width="0.8"/>
<path d="M183.4,340.62 h-1.3" stroke="#333" stroke-width="0.8"/>
<path d="M241.30,397.1 v2.5" stroke="#333" stroke-width="0.8"/>
<path d="M183.4,339.30 h-2.5" stroke="#333" stroke-width="0.8"/>
<path d="M250.01,397.1 v1.3" stroke="#333" stroke-width="0.8"/>
<path d="M183.4,330.60 h-1.3" stroke="#333" stroke-width="0.8"/>
<path d="M255.11,397.1 v1.3" stroke="#333" stroke-width="0.8"/>
<path d="M183.4,325.51 h-1.3" stroke="#333" stroke-width="0.8"/>
<path d="M258.73,397.1 v1.3" stroke="#333" stroke-width="0.8"/>
<path d="M183.4,321.90 h-1.3" stroke="#333" stroke-width="0.8"/>
<path d="M261.54,397.1 v1.3" stroke="#333" stroke-width="0.8"/>
<path d="M183.4,319.10 h-1.3" stroke="#333" stroke-width="0.8"/>
<path d="M263.83,397.1 v1.3" stroke="#333" stroke-width="0.8"/>
<path d="M183.4,316.81 h-1.3" stroke="#333" stroke-width="0.8"/>
<path d="M265.77,397.1 v1.3" stroke="#333" stroke-width="0.8"/>
<path d="M183.4,314.88 h-1.3" stroke="#333" stroke-width="0.8"/>
<path d="M267.44,397.1 v1.3" stroke="#333" stroke-width="0.8"/>
<path d="M183.4,313.20 h-1.3" stroke="#333" stroke-width="0.8"/>
<path d="M268.93,397.1 v1.3" stroke="#333" stroke-width="0.8"/>
<path d="M183.4,311.72 h-1.3" stroke="#333" stroke-width="0.8"/>
<path d="M270.25,397.1 v2.5" stroke="#333" stroke-width="0.8"/>
<path d="M183.4,310.40 h-2.5" stroke="#333" stroke-width="0.8"/>
<path d="M278.96,397.1 v1.3" stroke="#333" stroke-width="0.8"/>
<path d="M183.4,301.70 h-1.3" stroke="#333" stroke-width="0.8"/>
<path d="M284.06,397.1 v1.3" stroke="#333" stroke-width="0.8"/>
<path d="M183.4,296.61 h-1.3" stroke="#333" stroke-width="0.8"/>
<path d="M287.68,397.1 v1.3" stroke="#333" stroke-width="0.8"/>
<path d="M183.4,293.00 h-1.3" stroke="#333" stroke-width="0.8"/>
<path d="M290.49,397.1 v1.3" stroke="#333" stroke-width="0.8"/>
<path d="M183.4,290.20 h-1.3" stroke="#333" stroke-width="0.8"/>
<path d="M292.78,397.1 v1.3" stroke="#333" stroke-width="0.8"/>
<path d="M183.4,287.91 h-1.3" stroke="#333" stroke-width="0.8"/>
<path d="M294.72,397.1 v1.3" stroke="#333" stroke-width="0.8"/>
<path d="M183.4,285.98 h-1.3" stroke="#333" stroke-width="0.8"/>
<path d="M296.39,397.1 v1.3" stroke="#333" stroke-width="0.8"/>
<path d="M183.4,284.30 h-1.3" stroke="#333" stroke-width="0.8"/>
<path d="M297.88,397.1 v1.3" stroke="#333" stroke-width="0.8"/>
<path d="M183.4,282.82 h-1.3" stroke="#333" stroke-width="0.8"/>
<path d="M299.20,397.1 v2.5" stroke="#333" stroke-width="0.8"/>
<path d="M183.4,281.5 h-2.5" stroke="#333" stroke-width="0.8"/>
<text x="190.4" y="408.6" font-size="6" text-anchor="middle">10<tspan font-size="5" dy="-3">0</tspan></text>
<text x="178.9" y="396.6" font-size="6" text-anchor="end">10<tspan font-size="5" dy="-3">0</tspan></text>
<text x="215.3" y="408.6" font-size="6" text-anchor="middle">10<tspan font-size="5" dy="-3">1</tspan></text>
<text x="178.9" y="368.2" font-size="6" text-anchor="end">10<tspan font-size="5" dy="-3">1</tspan></text>
<text x="243.3" y="408.6" font-size="6" text-anchor="middle">10<tspan font-size="5" dy="-3">2</tspan></text>
<text x="178.9" y="340.9" font-size="6" text-anchor="end">10<tspan font-size="5" dy="-3">2</tspan></text>
<text x="270.8" y="408.6" font-size="6" text-anchor="middle">10<tspan font-size="5" dy="-3">3</tspan></text>
<text x="178.9" y="312.6" font-size="6" text-anchor="end">10<tspan font-size="5" dy="-3">3</tspan></text>
<text x="299.2" y="408.6" font-size="6" text-anchor="middle">10<tspan font-size="5" dy="-3">4</tspan></text>
<text x="178.9" y="291.3" font-size="6" text-anchor="end">10<tspan font-size="5" dy="-3">4</tspan></text>
<text x="298.2" y="289.2" font-size="8.3" text-anchor="end" stroke="#111" stroke-width="0.15">68.5%</text>
<rect x="424.0" y="300.2" width="0.9" height="0.9" fill="#777"/>
<rect x="450.6" y="304.3" width="0.9" height="0.9" fill="#8aa"/>
<rect x="417.1" y="302.8" width="0.9" height="0.9" fill="#777"/>
<rect x="445.7" y="303.4" width="0.9" height="0.9" fill="#777"/>
<rect x="433.8" y="294.9" width="0.9" height="0.9" fill="#777"/>
<rect x="451.7" y="309.1" width="0.9" height="0.9" fill="#8aa"/>
<rect x="435.5" y="298.3" width="0.9" height="0.9" fill="#aa8"/>
<rect x="420.2" y="303.3" width="0.9" height="0.9" fill="#777"/>
<rect x="447.2" y="296.0" width="0.9" height="0.9" fill="#777"/>
<rect x="439.3" y="299.2" width="0.9" height="0.9" fill="#666"/>
<rect x="429.0" y="298.1" width="0.9" height="0.9" fill="#777"/>
<rect x="448.1" y="307.3" width="0.9" height="0.9" fill="#777"/>
<rect x="417.0" y="302.0" width="0.9" height="0.9" fill="#777"/>
<rect x="452.2" y="310.8" width="0.9" height="0.9" fill="#777"/>
<rect x="450.9" y="305.4" width="0.9" height="0.9" fill="#aa8"/>
<rect x="450.0" y="303.4" width="0.9" height="0.9" fill="#777"/>
<rect x="452.8" y="308.3" width="0.9" height="0.9" fill="#777"/>
<rect x="449.8" y="308.1" width="0.9" height="0.9" fill="#aa8"/>
<rect x="423.5" y="297.5" width="0.9" height="0.9" fill="#777"/>
<rect x="418.8" y="301.7" width="0.9" height="0.9" fill="#777"/>
<rect x="424.8" y="300.8" width="0.9" height="0.9" fill="#777"/>
<rect x="436.0" y="301.3" width="0.9" height="0.9" fill="#777"/>
<rect x="447.9" y="303.6" width="0.9" height="0.9" fill="#777"/>
<rect x="441.0" y="301.3" width="0.9" height="0.9" fill="#777"/>
<rect x="430.5" y="298.2" width="0.9" height="0.9" fill="#777"/>
<rect x="450.4" y="310.7" width="0.9" height="0.9" fill="#777"/>
<rect x="449.7" y="307.5" width="0.9" height="0.9" fill="#777"/>
<rect x="422.2" y="300.7" width="0.9" height="0.9" fill="#666"/>
<rect x="447.6" y="304.8" width="0.9" height="0.9" fill="#777"/>
<rect x="434.1" y="301.1" width="0.9" height="0.9" fill="#666"/>
<rect x="426.0" y="301.7" width="0.9" height="0.9" fill="#777"/>
<rect x="419.0" y="299.4" width="0.9" height="0.9" fill="#777"/>
<rect x="432.9" y="297.1" width="0.9" height="0.9" fill="#777"/>
<rect x="447.4" y="302.6" width="0.9" height="0.9" fill="#777"/>
<rect x="453.6" y="310.6" width="0.9" height="0.9" fill="#777"/>
<rect x="418.5" y="299.3" width="0.9" height="0.9" fill="#777"/>
<rect x="428.7" y="298.2" width="0.9" height="0.9" fill="#777"/>
<rect x="423.9" y="298.8" width="0.9" height="0.9" fill="#777"/>
<rect x="451.3" y="307.8" width="0.9" height="0.9" fill="#777"/>
<rect x="453.8" y="308.8" width="0.9" height="0.9" fill="#777"/>
<rect x="436.9" y="301.0" width="0.9" height="0.9" fill="#99b"/>
<rect x="446.3" y="303.5" width="0.9" height="0.9" fill="#777"/>
<rect x="427.5" y="299.8" width="0.9" height="0.9" fill="#666"/>
<rect x="423.9" y="300.2" width="0.9" height="0.9" fill="#666"/>
<rect x="443.2" y="301.9" width="0.9" height="0.9" fill="#777"/>
<rect x="460.0" y="351.4" width="0.9" height="0.9" fill="#99b"/>
<rect x="462.7" y="345.0" width="0.9" height="0.9" fill="#aa8"/>
<rect x="462.2" y="352.0" width="0.9" height="0.9" fill="#777"/>
<rect x="471.4" y="335.7" width="0.9" height="0.9" fill="#777"/>
<rect x="471.0" y="336.0" width="0.9" height="0.9" fill="#777"/>
<rect x="466.2" y="337.9" width="0.9" height="0.9" fill="#777"/>
<rect x="466.9" y="347.3" width="0.9" height="0.9" fill="#777"/>
<rect x="458.9" y="316.7" width="0.9" height="0.9" fill="#99b"/>
<rect x="468.1" y="332.3" width="0.9" height="0.9" fill="#777"/>
<rect x="463.7" y="325.0" width="0.9" height="0.9" fill="#777"/>
<rect x="469.2" y="332.2" width="0.9" height="0.9" fill="#777"/>
<rect x="464.8" y="323.9" width="0.9" height="0.9" fill="#777"/>
<rect x="460.7" y="354.7" width="0.9" height="0.9" fill="#666"/>
<rect x="462.7" y="324.1" width="0.9" height="0.9" fill="#8aa"/>
<rect x="457.3" y="310.8" width="0.9" height="0.9" fill="#aa8"/>
<rect x="468.6" y="326.8" width="0.9" height="0.9" fill="#777"/>
<rect x="466.0" y="350.2" width="0.9" height="0.9" fill="#777"/>
<rect x="464.6" y="330.5" width="0.9" height="0.9" fill="#777"/>
<rect x="465.9" y="344.7" width="0.9" height="0.9" fill="#777"/>
<rect x="468.3" y="337.5" width="0.9" height="0.9" fill="#777"/>
<rect x="465.0" y="328.1" width="0.9" height="0.9" fill="#aa8"/>
<rect x="465.3" y="332.1" width="0.9" height="0.9" fill="#8aa"/>
<rect x="466.3" y="335.8" width="0.9" height="0.9" fill="#777"/>
<rect x="459.8" y="316.5" width="0.9" height="0.9" fill="#777"/>
<rect x="458.7" y="318.8" width="0.9" height="0.9" fill="#777"/>
<rect x="465.6" y="316.7" width="0.9" height="0.9" fill="#777"/>
<rect x="461.9" y="351.8" width="0.9" height="0.9" fill="#aa8"/>
<rect x="464.4" y="336.4" width="0.9" height="0.9" fill="#8aa"/>
<rect x="461.2" y="317.9" width="0.9" height="0.9" fill="#777"/>
<rect x="465.8" y="324.6" width="0.9" height="0.9" fill="#777"/>
<rect x="466.0" y="342.0" width="0.9" height="0.9" fill="#777"/>
<rect x="464.9" y="339.2" width="0.9" height="0.9" fill="#777"/>
<rect x="464.1" y="318.7" width="0.9" height="0.9" fill="#777"/>
<rect x="457.6" y="315.7" width="0.9" height="0.9" fill="#777"/>
<rect x="464.7" y="352.3" width="0.9" height="0.9" fill="#666"/>
<rect x="464.1" y="323.3" width="0.9" height="0.9" fill="#777"/>
<rect x="462.8" y="314.5" width="0.9" height="0.9" fill="#777"/>
<rect x="461.1" y="309.7" width="0.9" height="0.9" fill="#777"/>
<rect x="458.2" y="307.7" width="0.9" height="0.9" fill="#777"/>
<rect x="462.7" y="352.4" width="0.9" height="0.9" fill="#777"/>
<rect x="464.2" y="321.9" width="0.9" height="0.9" fill="#777"/>
<rect x="463.3" y="354.2" width="0.9" height="0.9" fill="#8aa"/>
<rect x="459.5" y="350.0" width="0.9" height="0.9" fill="#777"/>
<rect x="462.6" y="323.4" width="0.9" height="0.9" fill="#777"/>
<rect x="464.1" y="325.1" width="0.9" height="0.9" fill="#777"/>
<rect x="464.9" y="325.7" width="0.9" height="0.9" fill="#777"/>
<rect x="460.9" y="317.2" width="0.9" height="0.9" fill="#aa8"/>
<rect x="463.4" y="347.1" width="0.9" height="0.9" fill="#777"/>
<rect x="466.8" y="332.2" width="0.9" height="0.9" fill="#777"/>
<rect x="465.6" y="328.5" width="0.9" height="0.9" fill="#777"/>
<rect x="463.7" y="345.5" width="0.9" height="0.9" fill="#aa8"/>
<rect x="465.2" y="347.7" width="0.9" height="0.9" fill="#777"/>
<rect x="463.7" y="344.5" width="0.9" height="0.9" fill="#777"/>
<rect x="466.3" y="332.4" width="0.9" height="0.9" fill="#777"/>
<rect x="469.7" y="343.4" width="0.9" height="0.9" fill="#777"/>
<rect x="464.3" y="346.7" width="0.9" height="0.9" fill="#aa8"/>
<rect x="464.4" y="316.4" width="0.9" height="0.9" fill="#aa8"/>
<rect x="464.4" y="324.1" width="0.9" height="0.9" fill="#777"/>
<rect x="464.3" y="335.6" width="0.9" height="0.9" fill="#99b"/>
<rect x="467.0" y="339.5" width="0.9" height="0.9" fill="#777"/>
<rect x="460.9" y="351.7" width="0.9" height="0.9" fill="#aa8"/>
<rect x="465.5" y="327.9" width="0.9" height="0.9" fill="#777"/>
<rect x="464.8" y="331.7" width="0.9" height="0.9" fill="#8aa"/>
<rect x="465.8" y="341.1" width="0.9" height="0.9" fill="#777"/>
<rect x="463.8" y="323.7" width="0.9" height="0.9" fill="#777"/>
<rect x="467.1" y="336.1" width="0.9" height="0.9" fill="#777"/>
<rect x="464.9" y="357.4" width="0.9" height="0.9" fill="#666"/>
<rect x="464.9" y="318.3" width="0.9" height="0.9" fill="#777"/>
<rect x="464.8" y="341.2" width="0.9" height="0.9" fill="#777"/>
<rect x="456.5" y="312.2" width="0.9" height="0.9" fill="#666"/>
<rect x="464.3" y="327.1" width="0.9" height="0.9" fill="#aa8"/>
<rect x="460.9" y="350.5" width="0.9" height="0.9" fill="#777"/>
<rect x="460.3" y="316.4" width="0.9" height="0.9" fill="#777"/>
<rect x="459.8" y="317.3" width="0.9" height="0.9" fill="#777"/>
<rect x="463.1" y="319.4" width="0.9" height="0.9" fill="#777"/>
<rect x="416.8" y="371.3" width="0.9" height="0.9" fill="#777"/>
<rect x="437.7" y="363.9" width="0.9" height="0.9" fill="#777"/>
<rect x="448.9" y="358.9" width="0.9" height="0.9" fill="#777"/>
<rect x="438.9" y="360.8" width="0.9" height="0.9" fill="#8aa"/>
<rect x="437.2" y="365.2" width="0.9" height="0.9" fill="#777"/>
<rect x="446.2" y="365.7" width="0.9" height="0.9" fill="#777"/>
<rect x="458.5" y="362.4" width="0.9" height="0.9" fill="#777"/>
<rect x="450.9" y="357.7" width="0.9" height="0.9" fill="#777"/>
<rect x="450.0" y="358.3" width="0.9" height="0.9" fill="#777"/>
<rect x="425.9" y="363.6" width="0.9" height="0.9" fill="#777"/>
<rect x="446.2" y="358.8" width="0.9" height="0.9" fill="#777"/>
<rect x="431.3" y="368.5" width="0.9" height="0.9" fill="#777"/>
<rect x="417.1" y="372.2" width="0.9" height="0.9" fill="#666"/>
<rect x="444.8" y="366.0" width="0.9" height="0.9" fill="#aa8"/>
<rect x="427.8" y="369.2" width="0.9" height="0.9" fill="#777"/>
<rect x="419.2" y="361.6" width="0.9" height="0.9" fill="#666"/>
<rect x="436.6" y="360.5" width="0.9" height="0.9" fill="#777"/>
<rect x="434.7" y="368.0" width="0.9" height="0.9" fill="#8aa"/>
<rect x="442.5" y="365.5" width="0.9" height="0.9" fill="#777"/>
<rect x="422.1" y="364.5" width="0.9" height="0.9" fill="#777"/>
<rect x="425.4" y="364.6" width="0.9" height="0.9" fill="#777"/>
<rect x="437.4" y="364.9" width="0.9" height="0.9" fill="#aa8"/>
<rect x="448.1" y="368.9" width="0.9" height="0.9" fill="#8aa"/>
<rect x="450.3" y="361.1" width="0.9" height="0.9" fill="#777"/>
<rect x="430.8" y="366.8" width="0.9" height="0.9" fill="#777"/>
<rect x="450.4" y="356.6" width="0.9" height="0.9" fill="#777"/>
<rect x="443.3" y="367.7" width="0.9" height="0.9" fill="#777"/>
<rect x="437.6" y="364.8" width="0.9" height="0.9" fill="#777"/>
<rect x="458.0" y="362.4" width="0.9" height="0.9" fill="#777"/>
<rect x="436.0" y="368.7" width="0.9" height="0.9" fill="#777"/>
<rect x="447.8" y="362.9" width="0.9" height="0.9" fill="#777"/>
<rect x="440.0" y="361.2" width="0.9" height="0.9" fill="#777"/>
<rect x="455.2" y="355.8" width="0.9" height="0.9" fill="#666"/>
<rect x="417.6" y="364.4" width="0.9" height="0.9" fill="#8aa"/>
<rect x="449.8" y="360.4" width="0.9" height="0.9" fill="#8aa"/>
<rect x="448.2" y="360.5" width="0.9" height="0.9" fill="#777"/>
<rect x="454.6" y="355.0" width="0.9" height="0.9" fill="#aa8"/>
<rect x="457.6" y="359.4" width="0.9" height="0.9" fill="#777"/>
<rect x="454.6" y="361.3" width="0.9" height="0.9" fill="#777"/>
<rect x="426.3" y="372.9" width="0.9" height="0.9" fill="#777"/>
<rect x="455.4" y="359.1" width="0.9" height="0.9" fill="#777"/>
<rect x="419.8" y="360.3" width="0.9" height="0.9" fill="#777"/>
<rect x="419.6" y="364.2" width="0.9" height="0.9" fill="#777"/>
<rect x="442.0" y="366.9" width="0.9" height="0.9" fill="#777"/>
<rect x="446.8" y="363.6" width="0.9" height="0.9" fill="#777"/>
<rect x="450.2" y="357.0" width="0.9" height="0.9" fill="#777"/>
<rect x="443.6" y="367.8" width="0.9" height="0.9" fill="#777"/>
<rect x="445.7" y="360.5" width="0.9" height="0.9" fill="#777"/>
<rect x="426.3" y="365.5" width="0.9" height="0.9" fill="#777"/>
<rect x="435.0" y="364.2" width="0.9" height="0.9" fill="#777"/>
<rect x="451.2" y="358.1" width="0.9" height="0.9" fill="#777"/>
<rect x="453.9" y="372.1" width="0.9" height="0.9" fill="#777"/>
<rect x="419.2" y="367.9" width="0.9" height="0.9" fill="#8aa"/>
<rect x="429.6" y="375.7" width="0.9" height="0.9" fill="#777"/>
<rect x="419.9" y="368.4" width="0.9" height="0.9" fill="#8aa"/>
<rect x="429.2" y="366.1" width="0.9" height="0.9" fill="#99b"/>
<rect x="427.5" y="366.3" width="0.9" height="0.9" fill="#777"/>
<rect x="438.6" y="369.3" width="0.9" height="0.9" fill="#aa8"/>
<rect x="456.1" y="355.4" width="0.9" height="0.9" fill="#777"/>
<rect x="450.2" y="360.7" width="0.9" height="0.9" fill="#777"/>
<rect x="419.1" y="365.1" width="0.9" height="0.9" fill="#777"/>
<rect x="437.2" y="362.6" width="0.9" height="0.9" fill="#aa8"/>
<rect x="420.7" y="364.4" width="0.9" height="0.9" fill="#777"/>
<rect x="441.2" y="368.2" width="0.9" height="0.9" fill="#777"/>
<rect x="419.3" y="365.6" width="0.9" height="0.9" fill="#777"/>
<rect x="456.2" y="356.3" width="0.9" height="0.9" fill="#666"/>
<rect x="459.4" y="359.2" width="0.9" height="0.9" fill="#aa8"/>
<rect x="450.5" y="357.9" width="0.9" height="0.9" fill="#aa8"/>
<rect x="426.9" y="364.0" width="0.9" height="0.9" fill="#aa8"/>
<rect x="438.5" y="363.3" width="0.9" height="0.9" fill="#777"/>
<rect x="427.2" y="365.1" width="0.9" height="0.9" fill="#777"/>
<rect x="420.4" y="363.2" width="0.9" height="0.9" fill="#777"/>
<rect x="445.9" y="361.4" width="0.9" height="0.9" fill="#aa8"/>
<rect x="455.3" y="361.4" width="0.9" height="0.9" fill="#aa8"/>
<rect x="449.0" y="371.0" width="0.9" height="0.9" fill="#777"/>
<rect x="457.3" y="358.8" width="0.9" height="0.9" fill="#8aa"/>
<rect x="452.8" y="360.3" width="0.9" height="0.9" fill="#777"/>
<rect x="448.1" y="362.3" width="0.9" height="0.9" fill="#777"/>
<rect x="456.4" y="358.9" width="0.9" height="0.9" fill="#777"/>
<rect x="432.4" y="362.1" width="0.9" height="0.9" fill="#777"/>
<rect x="447.9" y="365.2" width="0.9" height="0.9" fill="#777"/>
<rect x="447.8" y="367.8" width="0.9" height="0.9" fill="#777"/>
<rect x="443.0" y="363.1" width="0.9" height="0.9" fill="#777"/>
<rect x="437.1" y="364.4" width="0.9" height="0.9" fill="#777"/>
<rect x="452.0" y="358.2" width="0.9" height="0.9" fill="#777"/>
<rect x="427.6" y="371.7" width="0.9" height="0.9" fill="#777"/>
<rect x="430.8" y="366.7" width="0.9" height="0.9" fill="#8aa"/>
<rect x="434.4" y="364.4" width="0.9" height="0.9" fill="#777"/>
<rect x="423.7" y="362.1" width="0.9" height="0.9" fill="#777"/>
<rect x="422.0" y="363.6" width="0.9" height="0.9" fill="#777"/>
<rect x="418.3" y="365.4" width="0.9" height="0.9" fill="#777"/>
<rect x="438.8" y="368.7" width="0.9" height="0.9" fill="#666"/>
<rect x="419.1" y="367.6" width="0.9" height="0.9" fill="#666"/>
<rect x="448.0" y="362.1" width="0.9" height="0.9" fill="#777"/>
<rect x="445.8" y="363.0" width="0.9" height="0.9" fill="#777"/>
<rect x="453.7" y="366.9" width="0.9" height="0.9" fill="#777"/>
<rect x="435.6" y="362.3" width="0.9" height="0.9" fill="#777"/>
<rect x="455.8" y="353.9" width="0.9" height="0.9" fill="#777"/>
<rect x="455.9" y="360.5" width="0.9" height="0.9" fill="#777"/>
<rect x="436.5" y="361.9" width="0.9" height="0.9" fill="#777"/>
<path d="M417.30,310.00 C417.60,306.77 418.03,306.72 419.00,305.60 C419.97,304.48 421.73,303.88 423.10,303.30 C424.47,302.72 424.08,302.30 427.20,302.10 C430.32,301.90 438.98,301.90 441.80,302.10 C444.62,302.30 443.13,302.33 444.10,303.30 C445.07,304.27 446.33,306.35 447.60,307.90 C448.87,309.45 450.33,311.33 451.70,312.60 C453.07,313.87 454.63,314.53 455.80,315.50 C456.97,316.47 457.73,317.23 458.70,318.40 C459.67,319.57 460.83,320.85 461.60,322.50 C462.37,324.15 462.92,326.17 463.30,328.30 C463.68,330.43 463.90,332.87 463.90,335.30 C463.90,337.73 463.78,340.75 463.30,342.90 C462.82,345.05 462.07,346.55 461.00,348.20 C459.93,349.85 458.65,351.45 456.90,352.80 C455.15,354.15 452.93,355.22 450.50,356.30 C448.07,357.38 445.42,358.42 442.30,359.30 C439.18,360.18 434.72,361.22 431.80,361.60 C428.88,361.98 426.83,361.98 424.80,361.60 C422.77,361.22 420.80,360.37 419.60,359.30 C418.40,358.23 418.00,358.42 417.60,355.20 C417.20,351.98 417.27,345.03 417.20,340.00 C417.13,334.97 417.18,330.00 417.20,325.00 C417.22,320.00 417.00,313.23 417.30,310.00Z" fill="rgb(15,28,215)" filter="url(#b0)"/>
<path d="M420.00,311.00 C420.25,305.58 420.67,308.42 421.50,307.50 C422.33,306.58 421.75,305.83 425.00,305.50 C428.25,305.17 437.67,305.08 441.00,305.50 C444.33,305.92 443.67,306.75 445.00,308.00 C446.33,309.25 447.50,311.42 449.00,313.00 C450.50,314.58 452.50,316.17 454.00,317.50 C455.50,318.83 456.92,319.25 458.00,321.00 C459.08,322.75 460.00,325.50 460.50,328.00 C461.00,330.50 461.08,333.50 461.00,336.00 C460.92,338.50 460.58,341.00 460.00,343.00 C459.42,345.00 458.67,346.58 457.50,348.00 C456.33,349.42 454.92,350.42 453.00,351.50 C451.08,352.58 448.67,353.50 446.00,354.50 C443.33,355.50 440.00,356.78 437.00,357.50 C434.00,358.22 430.42,358.80 428.00,358.80 C425.58,358.80 423.80,358.47 422.50,357.50 C421.20,356.53 420.62,355.92 420.20,353.00 C419.78,350.08 420.03,347.00 420.00,340.00 C419.97,333.00 419.75,316.42 420.00,311.00Z" fill="rgb(35,60,250)" filter="url(#b1)"/>
<ellipse cx="435.5" cy="328" rx="18" ry="24" fill="rgb(55,135,255)" filter="url(#b2)"/>
<ellipse cx="434.2" cy="336.2" rx="16.3" ry="17.5" fill="rgb(100,230,240)" filter="url(#b1)"/>
<ellipse cx="434.0" cy="336.3" rx="14.0" ry="14.8" fill="rgb(140,248,55)" filter="url(#b1)"/>
<ellipse cx="434.2" cy="336.8" rx="11" ry="10.5" fill="rgb(195,250,50)" filter="url(#b1)" opacity="0.85"/>
<ellipse cx="434.2" cy="337.0" rx="8.4" ry="8.0" fill="rgb(248,245,60)" filter="url(#b1)"/>
<ellipse cx="434.3" cy="337.2" rx="6.6" ry="6.3" fill="rgb(250,120,30)" filter="url(#b1)"/>
<ellipse cx="430.0" cy="335.0" rx="2.6" ry="2.6" fill="rgb(200,25,10)" filter="url(#b0)"/>
<ellipse cx="436.6" cy="336.4" rx="3.6" ry="4.2" fill="rgb(215,20,10)" filter="url(#b0)"/>
<ellipse cx="430.6" cy="341.0" rx="1.9" ry="1.9" fill="rgb(215,70,20)" filter="url(#b0)"/>
<path d="M414.4,281.1 V338.7 H488.0" fill="none" stroke="#333" stroke-width="0.9" opacity="0.6"/>
<rect x="371.6" y="281.1" width="116.4" height="115.8" fill="none" stroke="#3a3a3a" stroke-width="1.05"/>
<path d="M371.60,396.9 v2.5" stroke="#333" stroke-width="0.8"/>
<path d="M371.6,396.90 h-2.5" stroke="#333" stroke-width="0.8"/>
<path d="M380.36,396.9 v1.3" stroke="#333" stroke-width="0.8"/>
<path d="M371.6,388.19 h-1.3" stroke="#333" stroke-width="0.8"/>
<path d="M385.48,396.9 v1.3" stroke="#333" stroke-width="0.8"/>
<path d="M371.6,383.09 h-1.3" stroke="#333" stroke-width="0.8"/>
<path d="M389.12,396.9 v1.3" stroke="#333" stroke-width="0.8"/>
<path d="M371.6,379.47 h-1.3" stroke="#333" stroke-width="0.8"/>
<path d="M391.94,396.9 v1.3" stroke="#333" stroke-width="0.8"/>
<path d="M371.6,376.66 h-1.3" stroke="#333" stroke-width="0.8"/>
<path d="M394.24,396.9 v1.3" stroke="#333" stroke-width="0.8"/>
<path d="M371.6,374.37 h-1.3" stroke="#333" stroke-width="0.8"/>
<path d="M396.19,396.9 v1.3" stroke="#333" stroke-width="0.8"/>
<path d="M371.6,372.43 h-1.3" stroke="#333" stroke-width="0.8"/>
<path d="M397.88,396.9 v1.3" stroke="#333" stroke-width="0.8"/>
<path d="M371.6,370.76 h-1.3" stroke="#333" stroke-width="0.8"/>
<path d="M399.37,396.9 v1.3" stroke="#333" stroke-width="0.8"/>
<path d="M371.6,369.27 h-1.3" stroke="#333" stroke-width="0.8"/>
<path d="M400.70,396.9 v2.5" stroke="#333" stroke-width="0.8"/>
<path d="M371.6,367.95 h-2.5" stroke="#333" stroke-width="0.8"/>
<path d="M409.46,396.9 v1.3" stroke="#333" stroke-width="0.8"/>
<path d="M371.6,359.24 h-1.3" stroke="#333" stroke-width="0.8"/>
<path d="M414.58,396.9 v1.3" stroke="#333" stroke-width="0.8"/>
<path d="M371.6,354.14 h-1.3" stroke="#333" stroke-width="0.8"/>
<path d="M418.22,396.9 v1.3" stroke="#333" stroke-width="0.8"/>
<path d="M371.6,350.52 h-1.3" stroke="#333" stroke-width="0.8"/>
<path d="M421.04,396.9 v1.3" stroke="#333" stroke-width="0.8"/>
<path d="M371.6,347.71 h-1.3" stroke="#333" stroke-width="0.8"/>
<path d="M423.34,396.9 v1.3" stroke="#333" stroke-width="0.8"/>
<path d="M371.6,345.42 h-1.3" stroke="#333" stroke-width="0.8"/>
<path d="M425.29,396.9 v1.3" stroke="#333" stroke-width="0.8"/>
<path d="M371.6,343.48 h-1.3" stroke="#333" stroke-width="0.8"/>
<path d="M426.98,396.9 v1.3" stroke="#333" stroke-width="0.8"/>
<path d="M371.6,341.81 h-1.3" stroke="#333" stroke-width="0.8"/>
<path d="M428.47,396.9 v1.3" stroke="#333" stroke-width="0.8"/>
<path d="M371.6,340.32 h-1.3" stroke="#333" stroke-width="0.8"/>
<path d="M429.80,396.9 v2.5" stroke="#333" stroke-width="0.8"/>
<path d="M371.6,339.00 h-2.5" stroke="#333" stroke-width="0.8"/>
<path d="M438.56,396.9 v1.3" stroke="#333" stroke-width="0.8"/>
<path d="M371.6,330.29 h-1.3" stroke="#333" stroke-width="0.8"/>
<path d="M443.68,396.9 v1.3" stroke="#333" stroke-width="0.8"/>
<path d="M371.6,325.19 h-1.3" stroke="#333" stroke-width="0.8"/>
<path d="M447.32,396.9 v1.3" stroke="#333" stroke-width="0.8"/>
<path d="M371.6,321.57 h-1.3" stroke="#333" stroke-width="0.8"/>
<path d="M450.14,396.9 v1.3" stroke="#333" stroke-width="0.8"/>
<path d="M371.6,318.76 h-1.3" stroke="#333" stroke-width="0.8"/>
<path d="M452.44,396.9 v1.3" stroke="#333" stroke-width="0.8"/>
<path d="M371.6,316.47 h-1.3" stroke="#333" stroke-width="0.8"/>
<path d="M454.39,396.9 v1.3" stroke="#333" stroke-width="0.8"/>
<path d="M371.6,314.53 h-1.3" stroke="#333" stroke-width="0.8"/>
<path d="M456.08,396.9 v1.3" stroke="#333" stroke-width="0.8"/>
<path d="M371.6,312.86 h-1.3" stroke="#333" stroke-width="0.8"/>
<path d="M457.57,396.9 v1.3" stroke="#333" stroke-width="0.8"/>
<path d="M371.6,311.37 h-1.3" stroke="#333" stroke-width="0.8"/>
<path d="M458.90,396.9 v2.5" stroke="#333" stroke-width="0.8"/>
<path d="M371.6,310.05 h-2.5" stroke="#333" stroke-width="0.8"/>
<path d="M467.66,396.9 v1.3" stroke="#333" stroke-width="0.8"/>
<path d="M371.6,301.34 h-1.3" stroke="#333" stroke-width="0.8"/>
<path d="M472.78,396.9 v1.3" stroke="#333" stroke-width="0.8"/>
<path d="M371.6,296.24 h-1.3" stroke="#333" stroke-width="0.8"/>
<path d="M476.42,396.9 v1.3" stroke="#333" stroke-width="0.8"/>
<path d="M371.6,292.62 h-1.3" stroke="#333" stroke-width="0.8"/>
<path d="M479.24,396.9 v1.3" stroke="#333" stroke-width="0.8"/>
<path d="M371.6,289.81 h-1.3" stroke="#333" stroke-width="0.8"/>
<path d="M481.54,396.9 v1.3" stroke="#333" stroke-width="0.8"/>
<path d="M371.6,287.52 h-1.3" stroke="#333" stroke-width="0.8"/>
<path d="M483.49,396.9 v1.3" stroke="#333" stroke-width="0.8"/>
<path d="M371.6,285.58 h-1.3" stroke="#333" stroke-width="0.8"/>
<path d="M485.18,396.9 v1.3" stroke="#333" stroke-width="0.8"/>
<path d="M371.6,283.91 h-1.3" stroke="#333" stroke-width="0.8"/>
<path d="M486.67,396.9 v1.3" stroke="#333" stroke-width="0.8"/>
<path d="M371.6,282.42 h-1.3" stroke="#333" stroke-width="0.8"/>
<path d="M488.00,396.9 v2.5" stroke="#333" stroke-width="0.8"/>
<path d="M371.6,281.1 h-2.5" stroke="#333" stroke-width="0.8"/>
<text x="378.6" y="408.4" font-size="6" text-anchor="middle">10<tspan font-size="5" dy="-3">0</tspan></text>
<text x="367.1" y="396.4" font-size="6" text-anchor="end">10<tspan font-size="5" dy="-3">0</tspan></text>
<text x="403.7" y="408.4" font-size="6" text-anchor="middle">10<tspan font-size="5" dy="-3">1</tspan></text>
<text x="367.1" y="367.9" font-size="6" text-anchor="end">10<tspan font-size="5" dy="-3">1</tspan></text>
<text x="431.8" y="408.4" font-size="6" text-anchor="middle">10<tspan font-size="5" dy="-3">2</tspan></text>
<text x="367.1" y="340.6" font-size="6" text-anchor="end">10<tspan font-size="5" dy="-3">2</tspan></text>
<text x="459.4" y="408.4" font-size="6" text-anchor="middle">10<tspan font-size="5" dy="-3">3</tspan></text>
<text x="367.1" y="312.2" font-size="6" text-anchor="end">10<tspan font-size="5" dy="-3">3</tspan></text>
<text x="488.0" y="408.4" font-size="6" text-anchor="middle">10<tspan font-size="5" dy="-3">4</tspan></text>
<text x="367.1" y="290.9" font-size="6" text-anchor="end">10<tspan font-size="5" dy="-3">4</tspan></text>
<text x="487.0" y="288.8" font-size="8.3" text-anchor="end" stroke="#111" stroke-width="0.15">62.3%</text>
<rect x="231.2" y="446.0" width="0.9" height="0.9" fill="#aa8"/>
<rect x="268.2" y="455.1" width="0.9" height="0.9" fill="#8aa"/>
<rect x="238.1" y="445.6" width="0.9" height="0.9" fill="#8aa"/>
<rect x="269.4" y="458.1" width="0.9" height="0.9" fill="#666"/>
<rect x="250.1" y="446.2" width="0.9" height="0.9" fill="#777"/>
<rect x="269.5" y="468.2" width="0.9" height="0.9" fill="#666"/>
<rect x="232.6" y="447.8" width="0.9" height="0.9" fill="#777"/>
<rect x="273.9" y="455.7" width="0.9" height="0.9" fill="#8aa"/>
<rect x="245.1" y="447.4" width="0.9" height="0.9" fill="#777"/>
<rect x="242.9" y="443.1" width="0.9" height="0.9" fill="#777"/>
<rect x="276.5" y="465.1" width="0.9" height="0.9" fill="#8aa"/>
<rect x="271.4" y="467.1" width="0.9" height="0.9" fill="#666"/>
<rect x="247.1" y="445.2" width="0.9" height="0.9" fill="#99b"/>
<rect x="255.6" y="442.1" width="0.9" height="0.9" fill="#8aa"/>
<rect x="273.4" y="463.5" width="0.9" height="0.9" fill="#777"/>
<rect x="238.2" y="441.8" width="0.9" height="0.9" fill="#777"/>
<rect x="272.4" y="464.2" width="0.9" height="0.9" fill="#777"/>
<rect x="268.6" y="459.9" width="0.9" height="0.9" fill="#777"/>
<rect x="230.6" y="442.7" width="0.9" height="0.9" fill="#99b"/>
<rect x="256.1" y="447.2" width="0.9" height="0.9" fill="#777"/>
<rect x="270.6" y="448.3" width="0.9" height="0.9" fill="#777"/>
<rect x="269.4" y="452.6" width="0.9" height="0.9" fill="#777"/>
<rect x="268.5" y="454.1" width="0.9" height="0.9" fill="#777"/>
<rect x="267.8" y="460.9" width="0.9" height="0.9" fill="#777"/>
<rect x="249.5" y="447.8" width="0.9" height="0.9" fill="#8aa"/>
<rect x="269.6" y="455.6" width="0.9" height="0.9" fill="#777"/>
<rect x="242.2" y="446.8" width="0.9" height="0.9" fill="#777"/>
<rect x="269.1" y="467.7" width="0.9" height="0.9" fill="#777"/>
<rect x="246.1" y="444.1" width="0.9" height="0.9" fill="#666"/>
<rect x="251.1" y="446.9" width="0.9" height="0.9" fill="#777"/>
<rect x="269.3" y="452.1" width="0.9" height="0.9" fill="#777"/>
<rect x="256.9" y="444.7" width="0.9" height="0.9" fill="#777"/>
<rect x="240.3" y="444.3" width="0.9" height="0.9" fill="#8aa"/>
<rect x="245.5" y="447.0" width="0.9" height="0.9" fill="#777"/>
<rect x="245.2" y="445.2" width="0.9" height="0.9" fill="#99b"/>
<rect x="275.5" y="463.4" width="0.9" height="0.9" fill="#666"/>
<rect x="270.8" y="467.4" width="0.9" height="0.9" fill="#777"/>
<rect x="269.4" y="451.2" width="0.9" height="0.9" fill="#777"/>
<rect x="267.5" y="462.2" width="0.9" height="0.9" fill="#777"/>
<rect x="249.4" y="443.4" width="0.9" height="0.9" fill="#aa8"/>
<rect x="268.3" y="455.9" width="0.9" height="0.9" fill="#777"/>
<rect x="271.3" y="468.2" width="0.9" height="0.9" fill="#777"/>
<rect x="233.5" y="445.1" width="0.9" height="0.9" fill="#777"/>
<rect x="231.4" y="450.2" width="0.9" height="0.9" fill="#777"/>
<rect x="243.3" y="445.3" width="0.9" height="0.9" fill="#777"/>
<rect x="268.6" y="463.3" width="0.9" height="0.9" fill="#8aa"/>
<rect x="267.2" y="453.6" width="0.9" height="0.9" fill="#777"/>
<rect x="269.4" y="461.7" width="0.9" height="0.9" fill="#777"/>
<rect x="272.7" y="466.1" width="0.9" height="0.9" fill="#99b"/>
<rect x="270.9" y="463.3" width="0.9" height="0.9" fill="#777"/>
<rect x="243.1" y="443.1" width="0.9" height="0.9" fill="#777"/>
<rect x="255.1" y="440.5" width="0.9" height="0.9" fill="#aa8"/>
<rect x="270.9" y="466.2" width="0.9" height="0.9" fill="#777"/>
<rect x="248.0" y="439.8" width="0.9" height="0.9" fill="#8aa"/>
<rect x="248.9" y="441.9" width="0.9" height="0.9" fill="#777"/>
<rect x="238.8" y="443.8" width="0.9" height="0.9" fill="#777"/>
<rect x="248.0" y="446.1" width="0.9" height="0.9" fill="#777"/>
<rect x="267.0" y="454.0" width="0.9" height="0.9" fill="#777"/>
<rect x="240.3" y="446.3" width="0.9" height="0.9" fill="#777"/>
<rect x="264.7" y="448.4" width="0.9" height="0.9" fill="#777"/>
<rect x="240.9" y="448.0" width="0.9" height="0.9" fill="#777"/>
<rect x="269.2" y="457.6" width="0.9" height="0.9" fill="#aa8"/>
<rect x="270.9" y="450.6" width="0.9" height="0.9" fill="#777"/>
<rect x="230.5" y="446.7" width="0.9" height="0.9" fill="#777"/>
<rect x="256.3" y="447.4" width="0.9" height="0.9" fill="#777"/>
<rect x="269.6" y="468.7" width="0.9" height="0.9" fill="#777"/>
<rect x="272.5" y="465.0" width="0.9" height="0.9" fill="#99b"/>
<rect x="262.2" y="445.6" width="0.9" height="0.9" fill="#777"/>
<rect x="259.2" y="444.6" width="0.9" height="0.9" fill="#99b"/>
<rect x="238.7" y="446.6" width="0.9" height="0.9" fill="#99b"/>
<rect x="269.9" y="463.0" width="0.9" height="0.9" fill="#777"/>
<rect x="266.7" y="443.0" width="0.9" height="0.9" fill="#777"/>
<rect x="268.0" y="453.8" width="0.9" height="0.9" fill="#777"/>
<rect x="269.7" y="466.2" width="0.9" height="0.9" fill="#777"/>
<rect x="271.0" y="449.3" width="0.9" height="0.9" fill="#777"/>
<rect x="239.5" y="443.3" width="0.9" height="0.9" fill="#99b"/>
<rect x="273.3" y="449.0" width="0.9" height="0.9" fill="#777"/>
<rect x="254.5" y="446.7" width="0.9" height="0.9" fill="#666"/>
<rect x="261.9" y="444.4" width="0.9" height="0.9" fill="#777"/>
<rect x="268.4" y="455.0" width="0.9" height="0.9" fill="#777"/>
<rect x="273.7" y="470.0" width="0.9" height="0.9" fill="#777"/>
<rect x="274.8" y="470.0" width="0.9" height="0.9" fill="#777"/>
<rect x="280.9" y="527.6" width="0.9" height="0.9" fill="#8aa"/>
<rect x="281.9" y="495.3" width="0.9" height="0.9" fill="#777"/>
<rect x="281.3" y="525.8" width="0.9" height="0.9" fill="#777"/>
<rect x="280.3" y="493.7" width="0.9" height="0.9" fill="#777"/>
<rect x="281.7" y="477.8" width="0.9" height="0.9" fill="#777"/>
<rect x="280.1" y="482.6" width="0.9" height="0.9" fill="#99b"/>
<rect x="279.2" y="479.5" width="0.9" height="0.9" fill="#777"/>
<rect x="272.7" y="469.6" width="0.9" height="0.9" fill="#777"/>
<rect x="281.8" y="509.8" width="0.9" height="0.9" fill="#777"/>
<rect x="279.4" y="488.3" width="0.9" height="0.9" fill="#99b"/>
<rect x="286.2" y="527.9" width="0.9" height="0.9" fill="#777"/>
<rect x="279.8" y="497.3" width="0.9" height="0.9" fill="#777"/>
<rect x="279.7" y="476.8" width="0.9" height="0.9" fill="#777"/>
<rect x="277.4" y="470.9" width="0.9" height="0.9" fill="#8aa"/>
<rect x="283.5" y="504.0" width="0.9" height="0.9" fill="#777"/>
<rect x="279.7" y="493.6" width="0.9" height="0.9" fill="#99b"/>
<rect x="282.0" y="482.8" width="0.9" height="0.9" fill="#777"/>
<rect x="280.7" y="480.3" width="0.9" height="0.9" fill="#8aa"/>
<rect x="282.5" y="504.3" width="0.9" height="0.9" fill="#99b"/>
<rect x="281.8" y="488.2" width="0.9" height="0.9" fill="#777"/>
<rect x="280.6" y="530.4" width="0.9" height="0.9" fill="#99b"/>
<rect x="267.3" y="467.8" width="0.9" height="0.9" fill="#777"/>
<rect x="275.8" y="471.9" width="0.9" height="0.9" fill="#777"/>
<path d="M227.5,456 C227.5,452 229,449.5 235.5,448.9 L257.7,448.9 C263.8,449.8 267,453 267.6,462 L267.5,471 C268.3,472.5 269.5,470.5 271.2,470.3 C275.5,470.5 278,474 278.6,481 L279.5,494 L280.4,510 L279.8,531 L279.2,539 L227.6,539 Z" fill="rgb(15,28,215)" filter="url(#b0)"/>
<path d="M230,458 C230,453 232,451.5 237,451.2 L256,451.2 C262,452 264.5,455 265,462 L265,474 C266,476 268,474 271,473.5 C274,474 276,477 276.5,483 L277.5,510 L277,531 L276,537 L230,537 Z" fill="rgb(35,60,250)" filter="url(#b1)"/>
<ellipse cx="244" cy="488" rx="14" ry="12" fill="rgb(55,135,255)" filter="url(#b2)"/>
<ellipse cx="237.5" cy="507" rx="9" ry="15" fill="rgb(55,135,255)" filter="url(#b2)"/>
<path d="M231.00,462.00 C231.30,457.83 231.83,456.58 233.00,455.00 C234.17,453.42 234.17,452.92 238.00,452.50 C241.83,452.08 252.17,452.08 256.00,452.50 C259.83,452.92 259.83,453.42 261.00,455.00 C262.17,456.58 262.75,458.83 263.00,462.00 C263.25,465.17 263.17,470.83 262.50,474.00 C261.83,477.17 261.08,479.42 259.00,481.00 C256.92,482.58 253.50,483.08 250.00,483.50 C246.50,483.92 241.13,484.08 238.00,483.50 C234.87,482.92 232.37,483.58 231.20,480.00 C230.03,476.42 230.70,466.17 231.00,462.00Z" fill="rgb(100,230,240)" filter="url(#b1)"/>
<path d="M235.50,463.00 C235.75,460.17 236.75,458.33 238.50,457.00 C240.25,455.67 243.08,455.25 246.00,455.00 C248.92,454.75 253.58,454.83 256.00,455.50 C258.42,456.17 259.67,456.92 260.50,459.00 C261.33,461.08 261.20,465.17 261.00,468.00 C260.80,470.83 260.63,474.08 259.30,476.00 C257.97,477.92 255.72,479.00 253.00,479.50 C250.28,480.00 245.67,479.92 243.00,479.00 C240.33,478.08 238.25,476.67 237.00,474.00 C235.75,471.33 235.25,465.83 235.50,463.00Z" fill="rgb(140,248,55)" filter="url(#b1)"/>
<ellipse cx="252" cy="467" rx="6" ry="7" fill="rgb(195,250,50)" filter="url(#b2)" opacity="0.8"/>
<path d="M229.50,481.00 C231.17,478.67 236.25,480.00 240.00,480.00 C243.75,480.00 249.25,480.17 252.00,481.00 C254.75,481.83 255.92,483.33 256.50,485.00 C257.08,486.67 256.75,489.42 255.50,491.00 C254.25,492.58 251.92,493.83 249.00,494.50 C246.08,495.17 241.17,495.08 238.00,495.00 C234.83,494.92 231.42,496.33 230.00,494.00 C228.58,491.67 227.83,483.33 229.50,481.00Z" fill="rgb(100,230,240)" filter="url(#b2)" opacity="0.8"/>
<ellipse cx="244" cy="488" rx="3" ry="2" fill="rgb(55,135,255)" filter="url(#b1)" opacity="0.6"/>
<path d="M229.00,496.00 C229.50,492.42 230.17,493.50 232.00,493.50 C233.83,493.50 237.50,494.42 240.00,496.00 C242.50,497.58 245.37,500.83 247.00,503.00 C248.63,505.17 249.97,507.00 249.80,509.00 C249.63,511.00 247.97,513.00 246.00,515.00 C244.03,517.00 240.50,519.67 238.00,521.00 C235.50,522.33 232.50,524.00 231.00,523.00 C229.50,522.00 229.33,519.50 229.00,515.00 C228.67,510.50 228.50,499.58 229.00,496.00Z" fill="rgb(100,230,240)" filter="url(#b1)"/>
<path d="M230.50,498.00 C230.92,495.42 231.58,496.33 233.00,496.50 C234.42,496.67 237.00,497.58 239.00,499.00 C241.00,500.42 243.62,503.33 245.00,505.00 C246.38,506.67 247.47,507.50 247.30,509.00 C247.13,510.50 245.72,512.33 244.00,514.00 C242.28,515.67 239.00,517.92 237.00,519.00 C235.00,520.08 233.08,521.67 232.00,520.50 C230.92,519.33 230.75,515.75 230.50,512.00 C230.25,508.25 230.08,500.58 230.50,498.00Z" fill="rgb(140,248,55)" filter="url(#b1)"/>
<ellipse cx="235" cy="509" rx="3.5" ry="6" fill="rgb(195,250,50)" filter="url(#b1)" opacity="0.8"/>
<path d="M262.00,492.00 C263.08,489.50 265.00,486.33 267.00,485.00 C269.00,483.67 272.17,483.17 274.00,484.00 C275.83,484.83 277.17,486.50 278.00,490.00 C278.83,493.50 278.92,499.67 279.00,505.00 C279.08,510.33 279.00,517.50 278.50,522.00 C278.00,526.50 277.42,530.00 276.00,532.00 C274.58,534.00 272.00,534.67 270.00,534.00 C268.00,533.33 265.50,531.17 264.00,528.00 C262.50,524.83 261.58,519.67 261.00,515.00 C260.42,510.33 260.33,503.83 260.50,500.00 C260.67,496.17 260.92,494.50 262.00,492.00Z" fill="rgb(100,230,240)" filter="url(#b1)"/>
<path d="M263.50,494.00 C264.37,491.58 266.25,488.67 268.00,487.50 C269.75,486.33 272.50,486.08 274.00,487.00 C275.50,487.92 276.37,489.83 277.00,493.00 C277.63,496.17 277.80,501.33 277.80,506.00 C277.80,510.67 277.55,517.17 277.00,521.00 C276.45,524.83 275.67,527.33 274.50,529.00 C273.33,530.67 271.42,531.50 270.00,531.00 C268.58,530.50 267.17,528.83 266.00,526.00 C264.83,523.17 263.53,518.00 263.00,514.00 C262.47,510.00 262.72,505.33 262.80,502.00 C262.88,498.67 262.63,496.42 263.50,494.00Z" fill="rgb(140,248,55)" filter="url(#b1)"/>
<ellipse cx="270.6" cy="511" rx="6" ry="14.5" fill="rgb(248,245,60)" filter="url(#b1)"/>
<ellipse cx="271" cy="512.5" rx="4.2" ry="10.5" fill="rgb(250,120,30)" filter="url(#b1)"/>
<ellipse cx="271.2" cy="513.5" rx="2.6" ry="6.5" fill="rgb(228,32,14)" filter="url(#b0)"/>
<path d="M235,536.5 C238,531 243,525 249,522.5 C253,520.5 258,522 261,527 C263,531 264,534 264.5,536.8 Z" fill="rgb(15,28,215)" filter="url(#b0)"/>
<path d="M236.8,536.3 C239,532 243.5,526.5 249,523.8 C253,522 257,523.5 260,528 C261.8,531 262.6,534 262.8,536.3 Z" fill="#fff"/>
<rect x="240.2" y="528.0" width="0.8" height="0.8" fill="#888"/>
<rect x="247.9" y="533.2" width="0.8" height="0.8" fill="#888"/>
<rect x="242.8" y="528.0" width="0.8" height="0.8" fill="#888"/>
<rect x="244.6" y="533.8" width="0.8" height="0.8" fill="#888"/>
<rect x="242.9" y="533.7" width="0.8" height="0.8" fill="#888"/>
<rect x="253.2" y="528.2" width="0.8" height="0.8" fill="#888"/>
<rect x="250.7" y="531.0" width="0.8" height="0.8" fill="#888"/>
<rect x="248.3" y="536.0" width="0.8" height="0.8" fill="#888"/>
<rect x="241.9" y="527.2" width="0.8" height="0.8" fill="#888"/>
<rect x="258.8" y="530.6" width="0.8" height="0.8" fill="#888"/>
<rect x="244.0" y="530.0" width="0.8" height="0.8" fill="#888"/>
<rect x="247.3" y="535.6" width="0.8" height="0.8" fill="#888"/>
<rect x="244.2" y="529.0" width="0.8" height="0.8" fill="#888"/>
<rect x="251.7" y="531.9" width="0.8" height="0.8" fill="#888"/>
<rect x="259.1" y="534.5" width="0.8" height="0.8" fill="#888"/>
<rect x="247.1" y="528.8" width="0.8" height="0.8" fill="#888"/>
<rect x="256.7" y="535.9" width="0.8" height="0.8" fill="#888"/>
<rect x="240.6" y="533.6" width="0.8" height="0.8" fill="#888"/>
<rect x="257.4" y="532.9" width="0.8" height="0.8" fill="#888"/>
<rect x="244.4" y="534.2" width="0.8" height="0.8" fill="#888"/>
<rect x="254.6" y="528.7" width="0.8" height="0.8" fill="#888"/>
<rect x="252.8" y="529.0" width="0.8" height="0.8" fill="#888"/>
<rect x="240.8" y="530.0" width="0.8" height="0.8" fill="#888"/>
<rect x="246.7" y="530.6" width="0.8" height="0.8" fill="#888"/>
<rect x="252.9" y="534.5" width="0.8" height="0.8" fill="#888"/>
<rect x="259.2" y="535.8" width="0.8" height="0.8" fill="#888"/>
<rect x="259.9" y="534.1" width="0.8" height="0.8" fill="#888"/>
<rect x="246.1" y="528.6" width="0.8" height="0.8" fill="#888"/>
<rect x="252.5" y="531.9" width="0.8" height="0.8" fill="#888"/>
<rect x="253.5" y="527.8" width="0.8" height="0.8" fill="#888"/>
<rect x="243.9" y="535.3" width="0.8" height="0.8" fill="#888"/>
<rect x="252.0" y="533.3" width="0.8" height="0.8" fill="#888"/>
<rect x="241.9" y="530.6" width="0.8" height="0.8" fill="#888"/>
<rect x="258.2" y="532.8" width="0.8" height="0.8" fill="#888"/>
<rect x="259.8" y="528.8" width="0.8" height="0.8" fill="#888"/>
<path d="M225.5,423.6 V481.2 H298.2" fill="none" stroke="#333" stroke-width="0.9" opacity="0.6"/>
<rect x="182.2" y="423.6" width="116.0" height="115.5" fill="none" stroke="#3a3a3a" stroke-width="1.05"/>
<path d="M182.20,539.1 v2.5" stroke="#333" stroke-width="0.8"/>
<path d="M182.2,539.10 h-2.5" stroke="#333" stroke-width="0.8"/>
<path d="M190.93,539.1 v1.3" stroke="#333" stroke-width="0.8"/>
<path d="M182.2,530.41 h-1.3" stroke="#333" stroke-width="0.8"/>
<path d="M196.04,539.1 v1.3" stroke="#333" stroke-width="0.8"/>
<path d="M182.2,525.32 h-1.3" stroke="#333" stroke-width="0.8"/>
<path d="M199.66,539.1 v1.3" stroke="#333" stroke-width="0.8"/>
<path d="M182.2,521.72 h-1.3" stroke="#333" stroke-width="0.8"/>
<path d="M202.47,539.1 v1.3" stroke="#333" stroke-width="0.8"/>
<path d="M182.2,518.92 h-1.3" stroke="#333" stroke-width="0.8"/>
<path d="M204.77,539.1 v1.3" stroke="#333" stroke-width="0.8"/>
<path d="M182.2,516.63 h-1.3" stroke="#333" stroke-width="0.8"/>
<path d="M206.71,539.1 v1.3" stroke="#333" stroke-width="0.8"/>
<path d="M182.2,514.70 h-1.3" stroke="#333" stroke-width="0.8"/>
<path d="M208.39,539.1 v1.3" stroke="#333" stroke-width="0.8"/>
<path d="M182.2,513.02 h-1.3" stroke="#333" stroke-width="0.8"/>
<path d="M209.87,539.1 v1.3" stroke="#333" stroke-width="0.8"/>
<path d="M182.2,511.55 h-1.3" stroke="#333" stroke-width="0.8"/>
<path d="M211.20,539.1 v2.5" stroke="#333" stroke-width="0.8"/>
<path d="M182.2,510.23 h-2.5" stroke="#333" stroke-width="0.8"/>
<path d="M219.93,539.1 v1.3" stroke="#333" stroke-width="0.8"/>
<path d="M182.2,501.53 h-1.3" stroke="#333" stroke-width="0.8"/>
<path d="M225.04,539.1 v1.3" stroke="#333" stroke-width="0.8"/>
<path d="M182.2,496.45 h-1.3" stroke="#333" stroke-width="0.8"/>
<path d="M228.66,539.1 v1.3" stroke="#333" stroke-width="0.8"/>
<path d="M182.2,492.84 h-1.3" stroke="#333" stroke-width="0.8"/>
<path d="M231.47,539.1 v1.3" stroke="#333" stroke-width="0.8"/>
<path d="M182.2,490.04 h-1.3" stroke="#333" stroke-width="0.8"/>
<path d="M233.77,539.1 v1.3" stroke="#333" stroke-width="0.8"/>
<path d="M182.2,487.76 h-1.3" stroke="#333" stroke-width="0.8"/>
<path d="M235.71,539.1 v1.3" stroke="#333" stroke-width="0.8"/>
<path d="M182.2,485.82 h-1.3" stroke="#333" stroke-width="0.8"/>
<path d="M237.39,539.1 v1.3" stroke="#333" stroke-width="0.8"/>
<path d="M182.2,484.15 h-1.3" stroke="#333" stroke-width="0.8"/>
<path d="M238.87,539.1 v1.3" stroke="#333" stroke-width="0.8"/>
<path d="M182.2,482.67 h-1.3" stroke="#333" stroke-width="0.8"/>
<path d="M240.20,539.1 v2.5" stroke="#333" stroke-width="0.8"/>
<path d="M182.2,481.35 h-2.5" stroke="#333" stroke-width="0.8"/>
<path d="M248.93,539.1 v1.3" stroke="#333" stroke-width="0.8"/>
<path d="M182.2,472.66 h-1.3" stroke="#333" stroke-width="0.8"/>
<path d="M254.04,539.1 v1.3" stroke="#333" stroke-width="0.8"/>
<path d="M182.2,467.57 h-1.3" stroke="#333" stroke-width="0.8"/>
<path d="M257.66,539.1 v1.3" stroke="#333" stroke-width="0.8"/>
<path d="M182.2,463.97 h-1.3" stroke="#333" stroke-width="0.8"/>
<path d="M260.47,539.1 v1.3" stroke="#333" stroke-width="0.8"/>
<path d="M182.2,461.17 h-1.3" stroke="#333" stroke-width="0.8"/>
<path d="M262.77,539.1 v1.3" stroke="#333" stroke-width="0.8"/>
<path d="M182.2,458.88 h-1.3" stroke="#333" stroke-width="0.8"/>
<path d="M264.71,539.1 v1.3" stroke="#333" stroke-width="0.8"/>
<path d="M182.2,456.95 h-1.3" stroke="#333" stroke-width="0.8"/>
<path d="M266.39,539.1 v1.3" stroke="#333" stroke-width="0.8"/>
<path d="M182.2,455.27 h-1.3" stroke="#333" stroke-width="0.8"/>
<path d="M267.87,539.1 v1.3" stroke="#333" stroke-width="0.8"/>
<path d="M182.2,453.80 h-1.3" stroke="#333" stroke-width="0.8"/>
<path d="M269.20,539.1 v2.5" stroke="#333" stroke-width="0.8"/>
<path d="M182.2,452.48 h-2.5" stroke="#333" stroke-width="0.8"/>
<path d="M277.93,539.1 v1.3" stroke="#333" stroke-width="0.8"/>
<path d="M182.2,443.78 h-1.3" stroke="#333" stroke-width="0.8"/>
<path d="M283.04,539.1 v1.3" stroke="#333" stroke-width="0.8"/>
<path d="M182.2,438.70 h-1.3" stroke="#333" stroke-width="0.8"/>
<path d="M286.66,539.1 v1.3" stroke="#333" stroke-width="0.8"/>
<path d="M182.2,435.09 h-1.3" stroke="#333" stroke-width="0.8"/>
<path d="M289.47,539.1 v1.3" stroke="#333" stroke-width="0.8"/>
<path d="M182.2,432.29 h-1.3" stroke="#333" stroke-width="0.8"/>
<path d="M291.77,539.1 v1.3" stroke="#333" stroke-width="0.8"/>
<path d="M182.2,430.01 h-1.3" stroke="#333" stroke-width="0.8"/>
<path d="M293.71,539.1 v1.3" stroke="#333" stroke-width="0.8"/>
<path d="M182.2,428.07 h-1.3" stroke="#333" stroke-width="0.8"/>
<path d="M295.39,539.1 v1.3" stroke="#333" stroke-width="0.8"/>
<path d="M182.2,426.40 h-1.3" stroke="#333" stroke-width="0.8"/>
<path d="M296.87,539.1 v1.3" stroke="#333" stroke-width="0.8"/>
<path d="M182.2,424.92 h-1.3" stroke="#333" stroke-width="0.8"/>
<path d="M298.20,539.1 v2.5" stroke="#333" stroke-width="0.8"/>
<path d="M182.2,423.6 h-2.5" stroke="#333" stroke-width="0.8"/>
<text x="189.2" y="550.6" font-size="6" text-anchor="middle">10<tspan font-size="5" dy="-3">0</tspan></text>
<text x="177.7" y="538.6" font-size="6" text-anchor="end">10<tspan font-size="5" dy="-3">0</tspan></text>
<text x="214.2" y="550.6" font-size="6" text-anchor="middle">10<tspan font-size="5" dy="-3">1</tspan></text>
<text x="177.7" y="510.2" font-size="6" text-anchor="end">10<tspan font-size="5" dy="-3">1</tspan></text>
<text x="242.2" y="550.6" font-size="6" text-anchor="middle">10<tspan font-size="5" dy="-3">2</tspan></text>
<text x="177.7" y="483.0" font-size="6" text-anchor="end">10<tspan font-size="5" dy="-3">2</tspan></text>
<text x="269.7" y="550.6" font-size="6" text-anchor="middle">10<tspan font-size="5" dy="-3">3</tspan></text>
<text x="177.7" y="454.7" font-size="6" text-anchor="end">10<tspan font-size="5" dy="-3">3</tspan></text>
<text x="298.2" y="550.6" font-size="6" text-anchor="middle">10<tspan font-size="5" dy="-3">4</tspan></text>
<text x="177.7" y="433.4" font-size="6" text-anchor="end">10<tspan font-size="5" dy="-3">4</tspan></text>
<text x="297.2" y="431.3" font-size="8.3" text-anchor="end" stroke="#111" stroke-width="0.15">26.8%</text>
<rect x="440.1" y="445.3" width="0.9" height="0.9" fill="#777"/>
<rect x="451.0" y="446.1" width="0.9" height="0.9" fill="#777"/>
<rect x="458.5" y="443.6" width="0.9" height="0.9" fill="#99b"/>
<rect x="425.0" y="442.8" width="0.9" height="0.9" fill="#8aa"/>
<rect x="441.9" y="444.2" width="0.9" height="0.9" fill="#777"/>
<rect x="451.7" y="442.2" width="0.9" height="0.9" fill="#aa8"/>
<rect x="417.4" y="448.2" width="0.9" height="0.9" fill="#777"/>
<rect x="466.2" y="442.8" width="0.9" height="0.9" fill="#777"/>
<rect x="441.0" y="442.6" width="0.9" height="0.9" fill="#666"/>
<rect x="470.8" y="450.4" width="0.9" height="0.9" fill="#777"/>
<rect x="414.3" y="449.8" width="0.9" height="0.9" fill="#777"/>
<rect x="457.1" y="450.5" width="0.9" height="0.9" fill="#777"/>
<rect x="470.8" y="453.7" width="0.9" height="0.9" fill="#666"/>
<rect x="456.9" y="446.1" width="0.9" height="0.9" fill="#99b"/>
<rect x="456.4" y="449.4" width="0.9" height="0.9" fill="#777"/>
<rect x="428.5" y="443.6" width="0.9" height="0.9" fill="#777"/>
<rect x="436.2" y="443.7" width="0.9" height="0.9" fill="#777"/>
<rect x="427.8" y="444.5" width="0.9" height="0.9" fill="#aa8"/>
<rect x="418.0" y="448.8" width="0.9" height="0.9" fill="#8aa"/>
<rect x="460.5" y="442.8" width="0.9" height="0.9" fill="#666"/>
<rect x="439.9" y="443.2" width="0.9" height="0.9" fill="#777"/>
<rect x="423.7" y="445.8" width="0.9" height="0.9" fill="#777"/>
<rect x="440.8" y="438.2" width="0.9" height="0.9" fill="#777"/>
<rect x="428.3" y="446.3" width="0.9" height="0.9" fill="#777"/>
<rect x="432.5" y="445.2" width="0.9" height="0.9" fill="#777"/>
<rect x="456.0" y="448.1" width="0.9" height="0.9" fill="#777"/>
<rect x="466.0" y="444.5" width="0.9" height="0.9" fill="#777"/>
<rect x="432.8" y="444.1" width="0.9" height="0.9" fill="#777"/>
<rect x="438.4" y="437.0" width="0.9" height="0.9" fill="#777"/>
<rect x="459.5" y="446.0" width="0.9" height="0.9" fill="#777"/>
<rect x="451.5" y="447.8" width="0.9" height="0.9" fill="#777"/>
<rect x="417.5" y="450.9" width="0.9" height="0.9" fill="#99b"/>
<rect x="456.0" y="448.4" width="0.9" height="0.9" fill="#99b"/>
<rect x="453.8" y="447.6" width="0.9" height="0.9" fill="#777"/>
<rect x="456.4" y="450.0" width="0.9" height="0.9" fill="#777"/>
<rect x="465.5" y="445.8" width="0.9" height="0.9" fill="#666"/>
<rect x="458.3" y="440.7" width="0.9" height="0.9" fill="#777"/>
<rect x="448.1" y="443.7" width="0.9" height="0.9" fill="#777"/>
<rect x="425.6" y="444.4" width="0.9" height="0.9" fill="#99b"/>
<rect x="467.4" y="449.4" width="0.9" height="0.9" fill="#666"/>
<rect x="472.8" y="452.7" width="0.9" height="0.9" fill="#777"/>
<rect x="432.8" y="443.6" width="0.9" height="0.9" fill="#777"/>
<rect x="425.2" y="445.5" width="0.9" height="0.9" fill="#777"/>
<rect x="431.2" y="444.5" width="0.9" height="0.9" fill="#777"/>
<rect x="455.0" y="450.8" width="0.9" height="0.9" fill="#777"/>
<rect x="427.3" y="445.4" width="0.9" height="0.9" fill="#777"/>
<rect x="465.3" y="447.6" width="0.9" height="0.9" fill="#777"/>
<rect x="441.1" y="444.6" width="0.9" height="0.9" fill="#aa8"/>
<rect x="439.0" y="444.3" width="0.9" height="0.9" fill="#aa8"/>
<rect x="415.9" y="446.2" width="0.9" height="0.9" fill="#777"/>
<rect x="452.7" y="449.8" width="0.9" height="0.9" fill="#8aa"/>
<rect x="454.6" y="449.8" width="0.9" height="0.9" fill="#777"/>
<rect x="468.3" y="448.2" width="0.9" height="0.9" fill="#777"/>
<rect x="456.4" y="444.3" width="0.9" height="0.9" fill="#777"/>
<rect x="443.2" y="443.6" width="0.9" height="0.9" fill="#777"/>
<rect x="421.2" y="448.3" width="0.9" height="0.9" fill="#777"/>
<rect x="450.3" y="445.4" width="0.9" height="0.9" fill="#777"/>
<rect x="468.2" y="446.9" width="0.9" height="0.9" fill="#777"/>
<rect x="432.5" y="442.2" width="0.9" height="0.9" fill="#777"/>
<rect x="419.1" y="439.9" width="0.9" height="0.9" fill="#777"/>
<rect x="420.7" y="448.4" width="0.9" height="0.9" fill="#777"/>
<rect x="426.6" y="444.4" width="0.9" height="0.9" fill="#777"/>
<rect x="415.9" y="452.4" width="0.9" height="0.9" fill="#777"/>
<rect x="454.2" y="452.4" width="0.9" height="0.9" fill="#777"/>
<rect x="470.7" y="451.6" width="0.9" height="0.9" fill="#666"/>
<rect x="429.6" y="444.5" width="0.9" height="0.9" fill="#777"/>
<rect x="436.8" y="444.4" width="0.9" height="0.9" fill="#777"/>
<rect x="455.8" y="449.3" width="0.9" height="0.9" fill="#aa8"/>
<rect x="433.6" y="440.9" width="0.9" height="0.9" fill="#777"/>
<rect x="429.3" y="444.9" width="0.9" height="0.9" fill="#777"/>
<rect x="432.5" y="446.2" width="0.9" height="0.9" fill="#777"/>
<rect x="450.6" y="444.4" width="0.9" height="0.9" fill="#777"/>
<rect x="469.9" y="448.3" width="0.9" height="0.9" fill="#777"/>
<rect x="440.4" y="444.3" width="0.9" height="0.9" fill="#666"/>
<rect x="454.4" y="447.8" width="0.9" height="0.9" fill="#666"/>
<rect x="470.5" y="442.6" width="0.9" height="0.9" fill="#777"/>
<rect x="464.4" y="444.8" width="0.9" height="0.9" fill="#777"/>
<rect x="412.6" y="448.0" width="0.9" height="0.9" fill="#777"/>
<rect x="415.7" y="447.3" width="0.9" height="0.9" fill="#777"/>
<rect x="454.4" y="452.0" width="0.9" height="0.9" fill="#777"/>
<rect x="428.7" y="440.9" width="0.9" height="0.9" fill="#99b"/>
<rect x="461.1" y="446.2" width="0.9" height="0.9" fill="#99b"/>
<rect x="474.2" y="453.0" width="0.9" height="0.9" fill="#777"/>
<rect x="468.6" y="449.1" width="0.9" height="0.9" fill="#777"/>
<rect x="411.2" y="448.1" width="0.9" height="0.9" fill="#777"/>
<rect x="471.0" y="447.7" width="0.9" height="0.9" fill="#777"/>
<rect x="418.6" y="449.5" width="0.9" height="0.9" fill="#aa8"/>
<rect x="454.2" y="451.6" width="0.9" height="0.9" fill="#777"/>
<rect x="470.0" y="453.2" width="0.9" height="0.9" fill="#777"/>
<rect x="415.4" y="449.7" width="0.9" height="0.9" fill="#99b"/>
<rect x="442.2" y="524.5" width="0.9" height="0.9" fill="#777"/>
<rect x="426.4" y="529.9" width="0.9" height="0.9" fill="#aa8"/>
<rect x="458.6" y="524.0" width="0.9" height="0.9" fill="#777"/>
<rect x="450.1" y="519.8" width="0.9" height="0.9" fill="#777"/>
<rect x="467.2" y="519.9" width="0.9" height="0.9" fill="#666"/>
<rect x="470.9" y="513.1" width="0.9" height="0.9" fill="#777"/>
<rect x="445.1" y="538.4" width="0.9" height="0.9" fill="#777"/>
<rect x="443.6" y="522.4" width="0.9" height="0.9" fill="#777"/>
<rect x="468.7" y="508.8" width="0.9" height="0.9" fill="#99b"/>
<rect x="451.1" y="518.8" width="0.9" height="0.9" fill="#777"/>
<rect x="438.9" y="523.8" width="0.9" height="0.9" fill="#777"/>
<rect x="456.4" y="525.7" width="0.9" height="0.9" fill="#777"/>
<rect x="437.9" y="522.0" width="0.9" height="0.9" fill="#777"/>
<rect x="434.2" y="530.2" width="0.9" height="0.9" fill="#777"/>
<rect x="443.0" y="518.4" width="0.9" height="0.9" fill="#777"/>
<rect x="467.8" y="519.1" width="0.9" height="0.9" fill="#777"/>
<rect x="438.4" y="531.8" width="0.9" height="0.9" fill="#666"/>
<rect x="470.7" y="512.2" width="0.9" height="0.9" fill="#777"/>
<rect x="432.6" y="528.5" width="0.9" height="0.9" fill="#777"/>
<rect x="424.3" y="532.5" width="0.9" height="0.9" fill="#777"/>
<rect x="440.5" y="525.3" width="0.9" height="0.9" fill="#777"/>
<rect x="449.8" y="516.1" width="0.9" height="0.9" fill="#777"/>
<rect x="448.8" y="521.0" width="0.9" height="0.9" fill="#777"/>
<rect x="449.1" y="529.5" width="0.9" height="0.9" fill="#777"/>
<rect x="432.0" y="524.4" width="0.9" height="0.9" fill="#777"/>
<rect x="428.0" y="528.5" width="0.9" height="0.9" fill="#8aa"/>
<rect x="471.0" y="512.8" width="0.9" height="0.9" fill="#666"/>
<rect x="423.5" y="531.8" width="0.9" height="0.9" fill="#777"/>
<rect x="453.7" y="517.5" width="0.9" height="0.9" fill="#777"/>
<rect x="447.7" y="514.2" width="0.9" height="0.9" fill="#777"/>
<rect x="472.3" y="506.8" width="0.9" height="0.9" fill="#8aa"/>
<rect x="431.5" y="531.2" width="0.9" height="0.9" fill="#666"/>
<rect x="459.2" y="518.5" width="0.9" height="0.9" fill="#666"/>
<rect x="447.5" y="524.8" width="0.9" height="0.9" fill="#777"/>
<rect x="475.9" y="512.9" width="0.9" height="0.9" fill="#aa8"/>
<rect x="466.8" y="521.5" width="0.9" height="0.9" fill="#777"/>
<rect x="450.6" y="516.2" width="0.9" height="0.9" fill="#8aa"/>
<rect x="465.3" y="521.2" width="0.9" height="0.9" fill="#777"/>
<rect x="422.8" y="533.8" width="0.9" height="0.9" fill="#777"/>
<rect x="468.4" y="519.6" width="0.9" height="0.9" fill="#777"/>
<rect x="485.4" y="515.5" width="0.9" height="0.9" fill="#777"/>
<rect x="466.1" y="517.6" width="0.9" height="0.9" fill="#777"/>
<rect x="459.5" y="518.2" width="0.9" height="0.9" fill="#8aa"/>
<rect x="445.5" y="526.0" width="0.9" height="0.9" fill="#99b"/>
<rect x="458.6" y="521.3" width="0.9" height="0.9" fill="#777"/>
<rect x="455.7" y="516.0" width="0.9" height="0.9" fill="#777"/>
<rect x="470.2" y="511.1" width="0.9" height="0.9" fill="#777"/>
<rect x="429.6" y="533.4" width="0.9" height="0.9" fill="#777"/>
<rect x="444.4" y="522.5" width="0.9" height="0.9" fill="#99b"/>
<rect x="438.4" y="530.5" width="0.9" height="0.9" fill="#99b"/>
<rect x="464.7" y="520.5" width="0.9" height="0.9" fill="#777"/>
<rect x="471.5" y="512.7" width="0.9" height="0.9" fill="#aa8"/>
<rect x="439.9" y="520.3" width="0.9" height="0.9" fill="#8aa"/>
<rect x="474.5" y="509.5" width="0.9" height="0.9" fill="#777"/>
<rect x="429.8" y="535.1" width="0.9" height="0.9" fill="#777"/>
<rect x="439.1" y="525.1" width="0.9" height="0.9" fill="#777"/>
<rect x="437.8" y="528.2" width="0.9" height="0.9" fill="#aa8"/>
<rect x="434.0" y="538.6" width="0.9" height="0.9" fill="#777"/>
<rect x="429.7" y="529.2" width="0.9" height="0.9" fill="#777"/>
<rect x="476.0" y="516.5" width="0.9" height="0.9" fill="#777"/>
<rect x="452.5" y="523.6" width="0.9" height="0.9" fill="#aa8"/>
<rect x="452.4" y="513.1" width="0.9" height="0.9" fill="#777"/>
<rect x="439.4" y="523.4" width="0.9" height="0.9" fill="#99b"/>
<rect x="466.2" y="520.2" width="0.9" height="0.9" fill="#777"/>
<rect x="455.6" y="516.2" width="0.9" height="0.9" fill="#777"/>
<rect x="441.2" y="518.4" width="0.9" height="0.9" fill="#777"/>
<rect x="442.1" y="532.3" width="0.9" height="0.9" fill="#777"/>
<rect x="470.9" y="512.2" width="0.9" height="0.9" fill="#777"/>
<rect x="454.5" y="520.3" width="0.9" height="0.9" fill="#777"/>
<rect x="456.1" y="520.7" width="0.9" height="0.9" fill="#777"/>
<rect x="443.3" y="522.9" width="0.9" height="0.9" fill="#99b"/>
<rect x="463.2" y="518.5" width="0.9" height="0.9" fill="#777"/>
<rect x="448.9" y="525.0" width="0.9" height="0.9" fill="#777"/>
<rect x="439.9" y="521.5" width="0.9" height="0.9" fill="#777"/>
<rect x="456.7" y="526.9" width="0.9" height="0.9" fill="#8aa"/>
<rect x="454.5" y="529.1" width="0.9" height="0.9" fill="#777"/>
<rect x="464.8" y="518.1" width="0.9" height="0.9" fill="#8aa"/>
<rect x="433.1" y="536.1" width="0.9" height="0.9" fill="#777"/>
<rect x="442.8" y="531.4" width="0.9" height="0.9" fill="#777"/>
<rect x="472.3" y="515.3" width="0.9" height="0.9" fill="#777"/>
<rect x="436.6" y="529.7" width="0.9" height="0.9" fill="#777"/>
<rect x="451.5" y="520.3" width="0.9" height="0.9" fill="#777"/>
<rect x="436.7" y="527.2" width="0.9" height="0.9" fill="#777"/>
<rect x="447.3" y="514.7" width="0.9" height="0.9" fill="#777"/>
<rect x="430.5" y="534.6" width="0.9" height="0.9" fill="#777"/>
<rect x="466.0" y="516.2" width="0.9" height="0.9" fill="#666"/>
<rect x="449.1" y="520.1" width="0.9" height="0.9" fill="#666"/>
<rect x="448.8" y="520.6" width="0.9" height="0.9" fill="#777"/>
<rect x="444.7" y="518.5" width="0.9" height="0.9" fill="#777"/>
<rect x="446.6" y="516.3" width="0.9" height="0.9" fill="#777"/>
<rect x="440.3" y="530.5" width="0.9" height="0.9" fill="#777"/>
<rect x="446.8" y="522.3" width="0.9" height="0.9" fill="#777"/>
<rect x="430.5" y="531.9" width="0.9" height="0.9" fill="#777"/>
<rect x="450.5" y="522.1" width="0.9" height="0.9" fill="#777"/>
<rect x="436.5" y="537.7" width="0.9" height="0.9" fill="#99b"/>
<rect x="454.7" y="531.1" width="0.9" height="0.9" fill="#8aa"/>
<rect x="444.3" y="524.6" width="0.9" height="0.9" fill="#aa8"/>
<rect x="448.1" y="515.5" width="0.9" height="0.9" fill="#777"/>
<rect x="435.5" y="530.2" width="0.9" height="0.9" fill="#777"/>
<rect x="467.0" y="523.0" width="0.9" height="0.9" fill="#99b"/>
<rect x="431.4" y="530.6" width="0.9" height="0.9" fill="#777"/>
<rect x="450.4" y="515.6" width="0.9" height="0.9" fill="#777"/>
<rect x="430.5" y="529.1" width="0.9" height="0.9" fill="#777"/>
<rect x="437.4" y="525.5" width="0.9" height="0.9" fill="#777"/>
<rect x="457.4" y="518.9" width="0.9" height="0.9" fill="#777"/>
<rect x="456.5" y="524.4" width="0.9" height="0.9" fill="#666"/>
<rect x="456.5" y="524.5" width="0.9" height="0.9" fill="#777"/>
<rect x="464.5" y="518.3" width="0.9" height="0.9" fill="#777"/>
<rect x="427.3" y="531.2" width="0.9" height="0.9" fill="#666"/>
<rect x="448.8" y="520.3" width="0.9" height="0.9" fill="#777"/>
<rect x="446.0" y="516.1" width="0.9" height="0.9" fill="#777"/>
<rect x="443.7" y="519.8" width="0.9" height="0.9" fill="#777"/>
<rect x="436.5" y="527.8" width="0.9" height="0.9" fill="#aa8"/>
<rect x="452.0" y="524.4" width="0.9" height="0.9" fill="#777"/>
<rect x="463.8" y="517.1" width="0.9" height="0.9" fill="#777"/>
<rect x="426.7" y="536.8" width="0.9" height="0.9" fill="#777"/>
<rect x="455.4" y="515.4" width="0.9" height="0.9" fill="#777"/>
<rect x="426.7" y="534.7" width="0.9" height="0.9" fill="#8aa"/>
<rect x="446.4" y="521.8" width="0.9" height="0.9" fill="#777"/>
<rect x="448.2" y="515.8" width="0.9" height="0.9" fill="#8aa"/>
<rect x="468.1" y="519.8" width="0.9" height="0.9" fill="#777"/>
<rect x="456.2" y="528.5" width="0.9" height="0.9" fill="#777"/>
<rect x="450.2" y="517.5" width="0.9" height="0.9" fill="#777"/>
<rect x="472.4" y="510.2" width="0.9" height="0.9" fill="#777"/>
<rect x="439.4" y="519.7" width="0.9" height="0.9" fill="#666"/>
<rect x="449.8" y="516.3" width="0.9" height="0.9" fill="#99b"/>
<rect x="442.8" y="531.3" width="0.9" height="0.9" fill="#777"/>
<rect x="441.0" y="522.9" width="0.9" height="0.9" fill="#777"/>
<rect x="445.2" y="527.8" width="0.9" height="0.9" fill="#777"/>
<rect x="438.0" y="529.5" width="0.9" height="0.9" fill="#99b"/>
<rect x="440.6" y="527.8" width="0.9" height="0.9" fill="#666"/>
<rect x="436.3" y="525.0" width="0.9" height="0.9" fill="#8aa"/>
<rect x="422.2" y="536.2" width="0.9" height="0.9" fill="#777"/>
<rect x="442.6" y="523.4" width="0.9" height="0.9" fill="#777"/>
<rect x="441.0" y="521.7" width="0.9" height="0.9" fill="#777"/>
<rect x="428.0" y="528.6" width="0.9" height="0.9" fill="#777"/>
<rect x="426.2" y="533.8" width="0.9" height="0.9" fill="#777"/>
<rect x="427.9" y="538.8" width="0.9" height="0.9" fill="#777"/>
<rect x="442.3" y="525.6" width="0.9" height="0.9" fill="#777"/>
<rect x="441.5" y="520.2" width="0.9" height="0.9" fill="#777"/>
<rect x="442.7" y="521.0" width="0.9" height="0.9" fill="#777"/>
<rect x="456.1" y="529.7" width="0.9" height="0.9" fill="#aa8"/>
<rect x="450.4" y="526.4" width="0.9" height="0.9" fill="#777"/>
<rect x="432.5" y="531.2" width="0.9" height="0.9" fill="#777"/>
<rect x="446.3" y="516.6" width="0.9" height="0.9" fill="#777"/>
<rect x="439.8" y="537.6" width="0.9" height="0.9" fill="#777"/>
<rect x="454.1" y="524.3" width="0.9" height="0.9" fill="#777"/>
<rect x="469.1" y="520.2" width="0.9" height="0.9" fill="#777"/>
<rect x="454.2" y="516.6" width="0.9" height="0.9" fill="#777"/>
<rect x="461.0" y="517.6" width="0.9" height="0.9" fill="#777"/>
<rect x="451.3" y="515.5" width="0.9" height="0.9" fill="#777"/>
<rect x="449.0" y="523.3" width="0.9" height="0.9" fill="#777"/>
<rect x="450.0" y="515.6" width="0.9" height="0.9" fill="#777"/>
<rect x="470.1" y="457.3" width="0.9" height="0.9" fill="#777"/>
<rect x="471.4" y="477.2" width="0.9" height="0.9" fill="#777"/>
<rect x="472.3" y="473.9" width="0.9" height="0.9" fill="#8aa"/>
<rect x="472.1" y="496.4" width="0.9" height="0.9" fill="#777"/>
<rect x="470.7" y="480.5" width="0.9" height="0.9" fill="#777"/>
<rect x="471.6" y="458.3" width="0.9" height="0.9" fill="#777"/>
<rect x="471.3" y="470.8" width="0.9" height="0.9" fill="#777"/>
<rect x="471.8" y="502.1" width="0.9" height="0.9" fill="#777"/>
<rect x="471.8" y="495.8" width="0.9" height="0.9" fill="#8aa"/>
<rect x="470.5" y="495.2" width="0.9" height="0.9" fill="#777"/>
<rect x="474.3" y="463.6" width="0.9" height="0.9" fill="#777"/>
<rect x="474.5" y="495.4" width="0.9" height="0.9" fill="#666"/>
<rect x="470.5" y="486.1" width="0.9" height="0.9" fill="#99b"/>
<rect x="470.5" y="460.4" width="0.9" height="0.9" fill="#8aa"/>
<rect x="470.1" y="459.4" width="0.9" height="0.9" fill="#777"/>
<path d="M416.30,460.00 C416.43,456.33 416.42,454.80 417.00,453.00 C417.58,451.20 417.88,450.13 419.80,449.20 C421.72,448.27 425.22,447.95 428.50,447.40 C431.78,446.85 436.43,446.10 439.50,445.90 C442.57,445.70 444.85,445.75 446.90,446.20 C448.95,446.65 450.37,447.48 451.80,448.60 C453.23,449.72 454.27,453.00 455.50,452.90 C456.73,452.80 457.97,449.12 459.20,448.00 C460.43,446.88 461.67,446.00 462.90,446.20 C464.13,446.40 465.57,447.73 466.60,449.20 C467.63,450.67 468.60,451.53 469.10,455.00 C469.60,458.47 469.47,464.17 469.60,470.00 C469.73,475.83 469.88,485.50 469.90,490.00 C469.92,494.50 469.83,494.30 469.70,497.00 C469.57,499.70 469.62,503.45 469.10,506.20 C468.58,508.95 467.83,511.77 466.60,513.50 C465.37,515.23 463.33,516.38 461.70,516.60 C460.07,516.82 458.45,515.52 456.80,514.80 C455.15,514.08 454.07,512.20 451.80,512.30 C449.53,512.40 445.65,513.97 443.20,515.40 C440.75,516.83 439.55,518.95 437.10,520.90 C434.65,522.85 431.17,525.05 428.50,527.10 C425.83,529.15 422.85,532.72 421.10,533.20 C419.35,533.68 418.77,532.20 418.00,530.00 C417.23,527.80 416.80,525.83 416.50,520.00 C416.20,514.17 416.25,502.50 416.20,495.00 C416.15,487.50 416.18,480.83 416.20,475.00 C416.22,469.17 416.17,463.67 416.30,460.00Z" fill="rgb(15,28,215)" filter="url(#b0)"/>
<path d="M419.00,461.00 C419.20,456.83 419.33,456.58 420.00,455.00 C420.67,453.42 421.33,452.33 423.00,451.50 C424.67,450.67 427.17,450.48 430.00,450.00 C432.83,449.52 437.17,448.77 440.00,448.60 C442.83,448.43 445.17,448.52 447.00,449.00 C448.83,449.48 449.58,450.25 451.00,451.50 C452.42,452.75 454.08,456.58 455.50,456.50 C456.92,456.42 458.25,452.17 459.50,451.00 C460.75,449.83 462.00,449.33 463.00,449.50 C464.00,449.67 464.83,450.58 465.50,452.00 C466.17,453.42 466.67,454.17 467.00,458.00 C467.33,461.83 467.42,468.00 467.50,475.00 C467.58,482.00 467.67,494.67 467.50,500.00 C467.33,505.33 467.17,505.08 466.50,507.00 C465.83,508.92 464.58,510.58 463.50,511.50 C462.42,512.42 461.42,512.67 460.00,512.50 C458.58,512.33 456.67,511.00 455.00,510.50 C453.33,510.00 452.17,509.25 450.00,509.50 C447.83,509.75 444.50,510.67 442.00,512.00 C439.50,513.33 437.33,515.75 435.00,517.50 C432.67,519.25 430.17,520.83 428.00,522.50 C425.83,524.17 423.42,527.25 422.00,527.50 C420.58,527.75 420.03,526.92 419.50,524.00 C418.97,521.08 418.92,517.33 418.80,510.00 C418.68,502.67 418.77,488.17 418.80,480.00 C418.83,471.83 418.80,465.17 419.00,461.00Z" fill="rgb(35,60,250)" filter="url(#b1)"/>
<path d="M419.00,466.00 C419.37,459.17 419.17,460.50 421.00,459.00 C422.83,457.50 426.00,457.33 430.00,457.00 C434.00,456.67 441.33,456.17 445.00,457.00 C448.67,457.83 449.83,461.17 452.00,462.00 C454.17,462.83 455.67,462.33 458.00,462.00 C460.33,461.67 464.50,457.83 466.00,460.00 C467.50,462.17 466.92,468.33 467.00,475.00 C467.08,481.67 467.33,495.00 466.50,500.00 C465.67,505.00 464.42,504.17 462.00,505.00 C459.58,505.83 455.67,504.67 452.00,505.00 C448.33,505.33 444.00,506.00 440.00,507.00 C436.00,508.00 431.33,509.50 428.00,511.00 C424.67,512.50 421.53,517.83 420.00,516.00 C418.47,514.17 418.97,508.33 418.80,500.00 C418.63,491.67 418.63,472.83 419.00,466.00Z" fill="rgb(55,135,255)" filter="url(#b2)"/>
<path d="M418.50,471.00 C419.58,466.00 421.42,468.58 425.00,468.00 C428.58,467.42 436.33,467.17 440.00,467.50 C443.67,467.83 445.33,468.67 447.00,470.00 C448.67,471.33 448.83,475.33 450.00,475.50 C451.17,475.67 452.33,472.25 454.00,471.00 C455.67,469.75 458.00,468.17 460.00,468.00 C462.00,467.83 464.75,468.00 466.00,470.00 C467.25,472.00 467.33,475.83 467.50,480.00 C467.67,484.17 467.75,491.17 467.00,495.00 C466.25,498.83 465.00,501.83 463.00,503.00 C461.00,504.17 458.00,502.33 455.00,502.00 C452.00,501.67 448.83,500.75 445.00,501.00 C441.17,501.25 436.00,502.67 432.00,503.50 C428.00,504.33 423.25,506.92 421.00,506.00 C418.75,505.08 418.92,503.83 418.50,498.00 C418.08,492.17 417.42,476.00 418.50,471.00Z" fill="rgb(100,230,240)" filter="url(#b1)"/>
<path d="M419.00,474.00 C420.17,470.25 422.50,471.92 426.00,471.50 C429.50,471.08 436.67,471.17 440.00,471.50 C443.33,471.83 444.33,472.42 446.00,473.50 C447.67,474.58 448.50,477.92 450.00,478.00 C451.50,478.08 453.17,475.00 455.00,474.00 C456.83,473.00 459.25,471.67 461.00,472.00 C462.75,472.33 464.67,473.33 465.50,476.00 C466.33,478.67 466.25,484.17 466.00,488.00 C465.75,491.83 465.67,497.17 464.00,499.00 C462.33,500.83 459.00,499.17 456.00,499.00 C453.00,498.83 450.00,497.92 446.00,498.00 C442.00,498.08 436.17,499.00 432.00,499.50 C427.83,500.00 423.17,501.92 421.00,501.00 C418.83,500.08 419.33,498.50 419.00,494.00 C418.67,489.50 417.83,477.75 419.00,474.00Z" fill="rgb(140,248,55)" filter="url(#b1)"/>
<ellipse cx="436" cy="485" rx="14" ry="8" fill="rgb(195,250,50)" filter="url(#b2)" opacity="0.55"/>
<ellipse cx="460.3" cy="489" rx="5.6" ry="15" fill="rgb(248,245,60)" filter="url(#b1)"/>
<ellipse cx="460.4" cy="489" rx="4.0" ry="11.5" fill="rgb(250,120,30)" filter="url(#b1)"/>
<ellipse cx="460.6" cy="488.5" rx="2.4" ry="8.5" fill="rgb(228,32,14)" filter="url(#b0)"/>
<ellipse cx="420.5" cy="538.6" rx="3.2" ry="1.6" fill="rgb(15,28,215)" filter="url(#b0)"/>
<ellipse cx="428.5" cy="539.2" rx="2.4" ry="1.2" fill="rgb(15,28,215)" filter="url(#b0)"/>
<ellipse cx="461.7" cy="538.8" rx="3.2" ry="1.6" fill="rgb(15,28,215)" filter="url(#b0)"/>
<path d="M413.4,424.4 V482.1 H487.3" fill="none" stroke="#333" stroke-width="0.9" opacity="0.6"/>
<rect x="371.2" y="424.4" width="116.1" height="116.2" fill="none" stroke="#3a3a3a" stroke-width="1.05"/>
<path d="M371.20,540.6 v2.5" stroke="#333" stroke-width="0.8"/>
<path d="M371.2,540.60 h-2.5" stroke="#333" stroke-width="0.8"/>
<path d="M379.94,540.6 v1.3" stroke="#333" stroke-width="0.8"/>
<path d="M371.2,531.86 h-1.3" stroke="#333" stroke-width="0.8"/>
<path d="M385.05,540.6 v1.3" stroke="#333" stroke-width="0.8"/>
<path d="M371.2,526.74 h-1.3" stroke="#333" stroke-width="0.8"/>
<path d="M388.67,540.6 v1.3" stroke="#333" stroke-width="0.8"/>
<path d="M371.2,523.11 h-1.3" stroke="#333" stroke-width="0.8"/>
<path d="M391.49,540.6 v1.3" stroke="#333" stroke-width="0.8"/>
<path d="M371.2,520.29 h-1.3" stroke="#333" stroke-width="0.8"/>
<path d="M393.79,540.6 v1.3" stroke="#333" stroke-width="0.8"/>
<path d="M371.2,517.99 h-1.3" stroke="#333" stroke-width="0.8"/>
<path d="M395.73,540.6 v1.3" stroke="#333" stroke-width="0.8"/>
<path d="M371.2,516.05 h-1.3" stroke="#333" stroke-width="0.8"/>
<path d="M397.41,540.6 v1.3" stroke="#333" stroke-width="0.8"/>
<path d="M371.2,514.37 h-1.3" stroke="#333" stroke-width="0.8"/>
<path d="M398.90,540.6 v1.3" stroke="#333" stroke-width="0.8"/>
<path d="M371.2,512.88 h-1.3" stroke="#333" stroke-width="0.8"/>
<path d="M400.23,540.6 v2.5" stroke="#333" stroke-width="0.8"/>
<path d="M371.2,511.55 h-2.5" stroke="#333" stroke-width="0.8"/>
<path d="M408.96,540.6 v1.3" stroke="#333" stroke-width="0.8"/>
<path d="M371.2,502.81 h-1.3" stroke="#333" stroke-width="0.8"/>
<path d="M414.07,540.6 v1.3" stroke="#333" stroke-width="0.8"/>
<path d="M371.2,497.69 h-1.3" stroke="#333" stroke-width="0.8"/>
<path d="M417.70,540.6 v1.3" stroke="#333" stroke-width="0.8"/>
<path d="M371.2,494.06 h-1.3" stroke="#333" stroke-width="0.8"/>
<path d="M420.51,540.6 v1.3" stroke="#333" stroke-width="0.8"/>
<path d="M371.2,491.24 h-1.3" stroke="#333" stroke-width="0.8"/>
<path d="M422.81,540.6 v1.3" stroke="#333" stroke-width="0.8"/>
<path d="M371.2,488.94 h-1.3" stroke="#333" stroke-width="0.8"/>
<path d="M424.75,540.6 v1.3" stroke="#333" stroke-width="0.8"/>
<path d="M371.2,487.00 h-1.3" stroke="#333" stroke-width="0.8"/>
<path d="M426.44,540.6 v1.3" stroke="#333" stroke-width="0.8"/>
<path d="M371.2,485.32 h-1.3" stroke="#333" stroke-width="0.8"/>
<path d="M427.92,540.6 v1.3" stroke="#333" stroke-width="0.8"/>
<path d="M371.2,483.83 h-1.3" stroke="#333" stroke-width="0.8"/>
<path d="M429.25,540.6 v2.5" stroke="#333" stroke-width="0.8"/>
<path d="M371.2,482.50 h-2.5" stroke="#333" stroke-width="0.8"/>
<path d="M437.99,540.6 v1.3" stroke="#333" stroke-width="0.8"/>
<path d="M371.2,473.76 h-1.3" stroke="#333" stroke-width="0.8"/>
<path d="M443.10,540.6 v1.3" stroke="#333" stroke-width="0.8"/>
<path d="M371.2,468.64 h-1.3" stroke="#333" stroke-width="0.8"/>
<path d="M446.72,540.6 v1.3" stroke="#333" stroke-width="0.8"/>
<path d="M371.2,465.01 h-1.3" stroke="#333" stroke-width="0.8"/>
<path d="M449.54,540.6 v1.3" stroke="#333" stroke-width="0.8"/>
<path d="M371.2,462.19 h-1.3" stroke="#333" stroke-width="0.8"/>
<path d="M451.84,540.6 v1.3" stroke="#333" stroke-width="0.8"/>
<path d="M371.2,459.89 h-1.3" stroke="#333" stroke-width="0.8"/>
<path d="M453.78,540.6 v1.3" stroke="#333" stroke-width="0.8"/>
<path d="M371.2,457.95 h-1.3" stroke="#333" stroke-width="0.8"/>
<path d="M455.46,540.6 v1.3" stroke="#333" stroke-width="0.8"/>
<path d="M371.2,456.27 h-1.3" stroke="#333" stroke-width="0.8"/>
<path d="M456.95,540.6 v1.3" stroke="#333" stroke-width="0.8"/>
<path d="M371.2,454.78 h-1.3" stroke="#333" stroke-width="0.8"/>
<path d="M458.27,540.6 v2.5" stroke="#333" stroke-width="0.8"/>
<path d="M371.2,453.45 h-2.5" stroke="#333" stroke-width="0.8"/>
<path d="M467.01,540.6 v1.3" stroke="#333" stroke-width="0.8"/>
<path d="M371.2,444.71 h-1.3" stroke="#333" stroke-width="0.8"/>
<path d="M472.12,540.6 v1.3" stroke="#333" stroke-width="0.8"/>
<path d="M371.2,439.59 h-1.3" stroke="#333" stroke-width="0.8"/>
<path d="M475.75,540.6 v1.3" stroke="#333" stroke-width="0.8"/>
<path d="M371.2,435.96 h-1.3" stroke="#333" stroke-width="0.8"/>
<path d="M478.56,540.6 v1.3" stroke="#333" stroke-width="0.8"/>
<path d="M371.2,433.14 h-1.3" stroke="#333" stroke-width="0.8"/>
<path d="M480.86,540.6 v1.3" stroke="#333" stroke-width="0.8"/>
<path d="M371.2,430.84 h-1.3" stroke="#333" stroke-width="0.8"/>
<path d="M482.80,540.6 v1.3" stroke="#333" stroke-width="0.8"/>
<path d="M371.2,428.90 h-1.3" stroke="#333" stroke-width="0.8"/>
<path d="M484.49,540.6 v1.3" stroke="#333" stroke-width="0.8"/>
<path d="M371.2,427.22 h-1.3" stroke="#333" stroke-width="0.8"/>
<path d="M485.97,540.6 v1.3" stroke="#333" stroke-width="0.8"/>
<path d="M371.2,425.73 h-1.3" stroke="#333" stroke-width="0.8"/>
<path d="M487.30,540.6 v2.5" stroke="#333" stroke-width="0.8"/>
<path d="M371.2,424.4 h-2.5" stroke="#333" stroke-width="0.8"/>
<text x="378.2" y="552.1" font-size="6" text-anchor="middle">10<tspan font-size="5" dy="-3">0</tspan></text>
<text x="366.7" y="540.1" font-size="6" text-anchor="end">10<tspan font-size="5" dy="-3">0</tspan></text>
<text x="403.2" y="552.1" font-size="6" text-anchor="middle">10<tspan font-size="5" dy="-3">1</tspan></text>
<text x="366.7" y="511.6" font-size="6" text-anchor="end">10<tspan font-size="5" dy="-3">1</tspan></text>
<text x="431.2" y="552.1" font-size="6" text-anchor="middle">10<tspan font-size="5" dy="-3">2</tspan></text>
<text x="366.7" y="484.1" font-size="6" text-anchor="end">10<tspan font-size="5" dy="-3">2</tspan></text>
<text x="458.8" y="552.1" font-size="6" text-anchor="middle">10<tspan font-size="5" dy="-3">3</tspan></text>
<text x="366.7" y="455.6" font-size="6" text-anchor="end">10<tspan font-size="5" dy="-3">3</tspan></text>
<text x="487.3" y="552.1" font-size="6" text-anchor="middle">10<tspan font-size="5" dy="-3">4</tspan></text>
<text x="366.7" y="434.2" font-size="6" text-anchor="end">10<tspan font-size="5" dy="-3">4</tspan></text>
<text x="486.3" y="432.1" font-size="8.3" text-anchor="end" stroke="#111" stroke-width="0.15">38.3%</text>
</svg>
</body></html>
